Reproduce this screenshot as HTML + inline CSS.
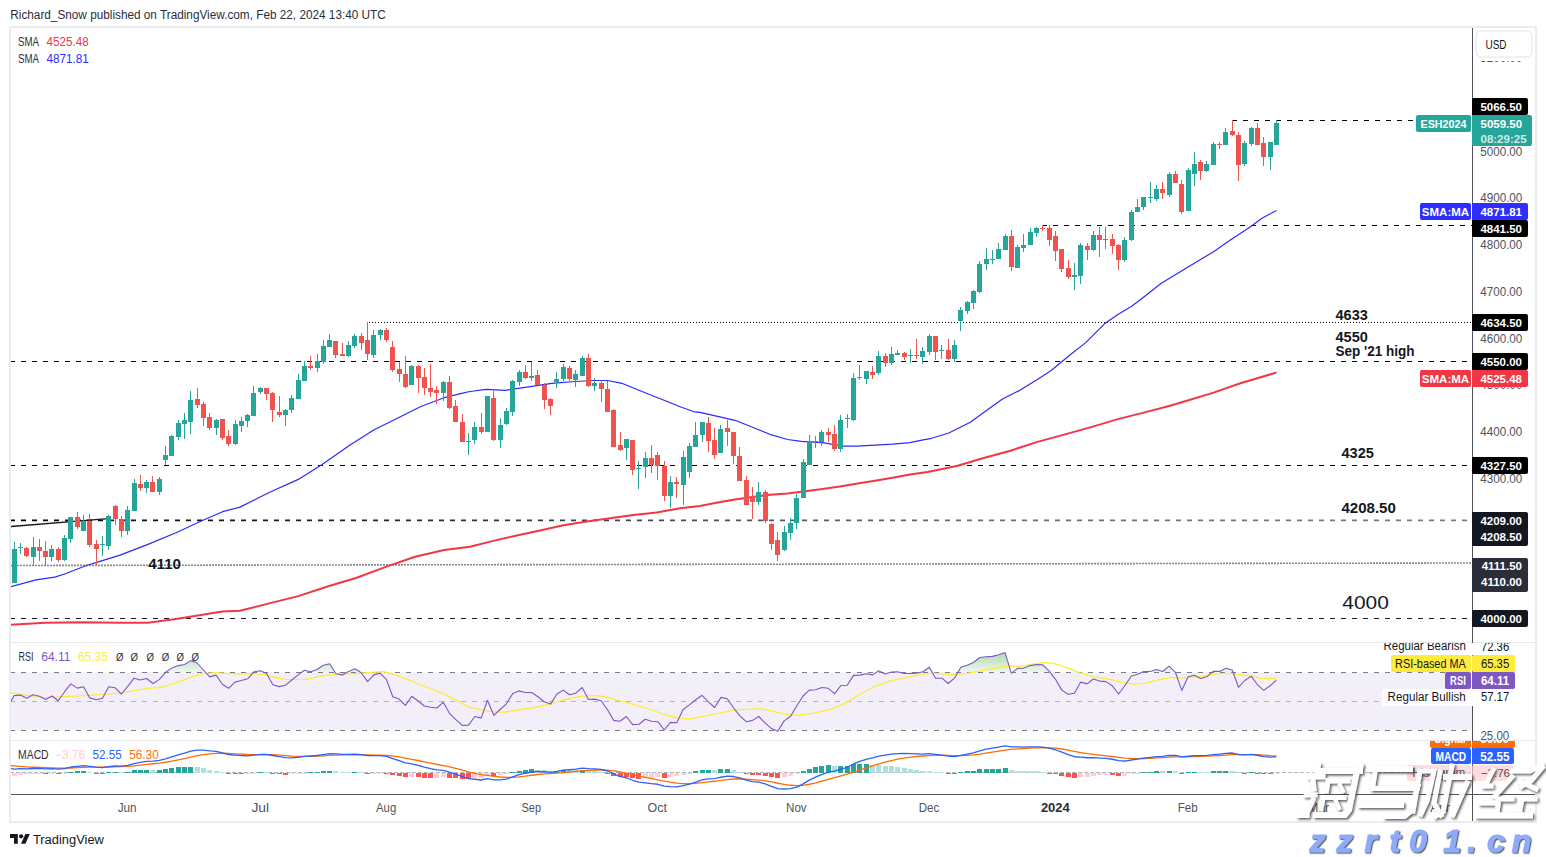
<!DOCTYPE html>
<html><head><meta charset="utf-8"><style>
html,body{margin:0;padding:0;background:#fff;width:1546px;height:857px;overflow:hidden}
</style></head><body>
<svg width="1546" height="857" viewBox="0 0 1546 857" style="position:absolute;left:0;top:0">
<defs>
<clipPath id="cmain"><rect x="11" y="28" width="1461" height="614"/></clipPath>
<clipPath id="crsi"><rect x="11" y="643" width="1461" height="97"/></clipPath>
<clipPath id="crsiob"><rect x="11" y="643" width="1461" height="29.5"/></clipPath>
<clipPath id="cmacd"><rect x="11" y="741" width="1461" height="53"/></clipPath>
<linearGradient id="gob" x1="0" y1="650" x2="0" y2="672.5" gradientUnits="userSpaceOnUse"><stop offset="0" stop-color="#a5d6a7"/><stop offset="1" stop-color="#eef7ee"/></linearGradient>
</defs>
<rect x="0" y="0" width="1546" height="857" fill="#ffffff"/>
<rect x="10" y="27" width="1526" height="795" fill="none" stroke="#ebecf1" stroke-width="2"/>
<rect x="11" y="642" width="1524" height="1" fill="#e6e8ee"/>
<rect x="11" y="740" width="1524" height="1" fill="#e6e8ee"/>
<rect x="1472" y="28" width="1" height="793" fill="#50535e"/>
<rect x="11" y="794" width="1524" height="1" fill="#50535e"/>
<g clip-path="url(#cmain)">
<line x1="1232" y1="120.5" x2="1472" y2="120.5" stroke="#000" stroke-width="1" stroke-dasharray="5 6"/>
<line x1="1042" y1="225.5" x2="1472" y2="225.5" stroke="#000" stroke-width="1" stroke-dasharray="5 6"/>
<line x1="369" y1="322.5" x2="1472" y2="322.5" stroke="#000" stroke-width="1" stroke-dasharray="1 2"/>
<line x1="10" y1="361.5" x2="1472" y2="361.5" stroke="#000" stroke-width="1" stroke-dasharray="5 6"/>
<line x1="10" y1="465.5" x2="1472" y2="465.5" stroke="#000" stroke-width="1" stroke-dasharray="5 6"/>
<defs><linearGradient id="g4209" x1="10" y1="0" x2="1472" y2="0" gradientUnits="userSpaceOnUse"><stop offset="0" stop-color="#000"/><stop offset="0.31" stop-color="#2a2e39"/><stop offset="0.49" stop-color="#50535e"/><stop offset="0.68" stop-color="#6a6d78"/><stop offset="1" stop-color="#787b86"/></linearGradient></defs>
<line x1="10" y1="520.3" x2="1472" y2="520.3" stroke="url(#g4209)" stroke-width="1.7" stroke-dasharray="5 6"/>
<line x1="11" y1="565.5" x2="1472" y2="563" stroke="#868993" stroke-width="1.6" stroke-dasharray="2 1"/>
<line x1="10" y1="618.5" x2="1472" y2="618.5" stroke="#131722" stroke-width="1" stroke-dasharray="5 6"/>
<line x1="10" y1="526.6" x2="108" y2="518.6" stroke="#131722" stroke-width="1.3"/>
<polyline points="10.00,624.70 45.30,622.80 82.70,622.30 120.00,622.80 148.00,622.80 176.00,619.10 194.60,615.90 222.60,611.60 240.00,610.70 269.20,603.40 298.30,596.10 327.50,586.50 356.70,577.70 385.80,566.90 415.00,556.70 444.10,550.00 470.00,546.70 493.30,540.90 516.70,535.50 540.00,530.40 563.40,525.20 586.70,521.50 610.10,518.20 633.40,515.00 656.80,512.40 680.10,508.20 700.00,506.00 717.50,502.50 735.00,499.40 752.50,496.90 770.00,494.70 787.50,493.40 805.00,491.20 822.50,488.90 840.00,486.40 857.50,483.60 875.00,480.80 892.60,477.70 910.00,474.50 927.60,471.90 956.80,466.00 983.70,458.00 1010.50,450.70 1037.40,441.90 1064.20,434.60 1091.10,427.10 1117.90,419.10 1144.80,412.40 1170.00,405.70 1186.80,400.70 1213.60,392.60 1240.40,383.20 1276.50,372.50" fill="none" stroke="#f23645" stroke-width="2" stroke-linejoin="round"/>
<polyline points="10.00,586.80 36.00,579.90 54.70,577.10 64.00,574.30 86.40,565.50 97.60,562.20 120.00,555.10 148.00,544.40 176.00,532.80 204.00,519.80 222.60,511.70 240.00,507.10 269.20,492.50 298.30,479.40 321.70,464.80 350.80,444.40 374.10,429.80 400.40,416.70 420.80,406.50 444.10,397.70 461.60,393.30 470.00,391.50 486.30,389.40 505.00,390.30 528.40,386.80 551.70,383.30 575.00,381.50 593.70,380.50 607.80,380.50 621.80,383.30 645.10,392.70 668.50,402.00 680.10,406.70 694.10,411.80 700.00,412.40 717.50,416.40 735.00,420.30 752.50,427.30 770.00,434.30 787.50,439.50 801.50,441.30 822.50,442.70 843.50,446.20 857.50,446.20 875.00,445.10 892.60,444.10 910.00,442.70 920.60,440.40 930.00,438.70 948.80,433.00 970.30,422.30 983.70,412.40 1002.50,399.00 1018.60,390.90 1037.40,379.40 1050.80,370.80 1069.60,355.20 1085.70,342.60 1104.50,323.80 1117.90,314.40 1131.30,306.40 1144.80,296.20 1160.90,283.50 1186.80,267.80 1213.60,251.70 1227.00,242.30 1251.20,226.20 1261.90,218.20 1276.50,210.50" fill="none" stroke="#2a2aff" stroke-width="1.2" stroke-linejoin="round"/>
<g shape-rendering="crispEdges">
<rect x="14" y="542" width="1" height="41" fill="#26a69a"/>
<rect x="12" y="549" width="5" height="34" fill="#26a69a"/>
<rect x="20" y="543" width="1" height="11" fill="#26a69a"/>
<rect x="18" y="547" width="5" height="1" fill="#26a69a"/>
<rect x="26" y="547" width="1" height="10" fill="#ef5350"/>
<rect x="24" y="548" width="5" height="8" fill="#ef5350"/>
<rect x="33" y="537" width="1" height="29" fill="#26a69a"/>
<rect x="31" y="547" width="5" height="10" fill="#26a69a"/>
<rect x="39" y="539" width="1" height="22" fill="#ef5350"/>
<rect x="37" y="547" width="5" height="4" fill="#ef5350"/>
<rect x="45" y="541" width="1" height="25" fill="#ef5350"/>
<rect x="43" y="551" width="5" height="6" fill="#ef5350"/>
<rect x="51" y="545" width="1" height="16" fill="#26a69a"/>
<rect x="49" y="549" width="5" height="8" fill="#26a69a"/>
<rect x="58" y="547" width="1" height="15" fill="#ef5350"/>
<rect x="56" y="549" width="5" height="11" fill="#ef5350"/>
<rect x="64" y="535" width="1" height="26" fill="#26a69a"/>
<rect x="62" y="538" width="5" height="22" fill="#26a69a"/>
<rect x="70" y="517" width="1" height="26" fill="#26a69a"/>
<rect x="68" y="517" width="5" height="22" fill="#26a69a"/>
<rect x="77" y="512" width="1" height="17" fill="#ef5350"/>
<rect x="75" y="517" width="5" height="10" fill="#ef5350"/>
<rect x="83" y="515" width="1" height="16" fill="#26a69a"/>
<rect x="81" y="521" width="5" height="10" fill="#26a69a"/>
<rect x="89" y="514" width="1" height="33" fill="#ef5350"/>
<rect x="87" y="521" width="5" height="24" fill="#ef5350"/>
<rect x="96" y="540" width="1" height="25" fill="#ef5350"/>
<rect x="94" y="544" width="5" height="5" fill="#ef5350"/>
<rect x="102" y="536" width="1" height="20" fill="#26a69a"/>
<rect x="100" y="544" width="5" height="1" fill="#26a69a"/>
<rect x="108" y="515" width="1" height="35" fill="#26a69a"/>
<rect x="106" y="516" width="5" height="30" fill="#26a69a"/>
<rect x="115" y="505" width="1" height="20" fill="#ef5350"/>
<rect x="113" y="506" width="5" height="13" fill="#ef5350"/>
<rect x="121" y="516" width="1" height="21" fill="#ef5350"/>
<rect x="119" y="519" width="5" height="12" fill="#ef5350"/>
<rect x="127" y="506" width="1" height="29" fill="#26a69a"/>
<rect x="125" y="510" width="5" height="21" fill="#26a69a"/>
<rect x="134" y="479" width="1" height="32" fill="#26a69a"/>
<rect x="132" y="483" width="5" height="28" fill="#26a69a"/>
<rect x="140" y="475" width="1" height="16" fill="#ef5350"/>
<rect x="138" y="484" width="5" height="4" fill="#ef5350"/>
<rect x="146" y="480" width="1" height="13" fill="#26a69a"/>
<rect x="144" y="482" width="5" height="6" fill="#26a69a"/>
<rect x="152" y="476" width="1" height="16" fill="#ef5350"/>
<rect x="150" y="482" width="5" height="10" fill="#ef5350"/>
<rect x="159" y="477" width="1" height="18" fill="#26a69a"/>
<rect x="157" y="479" width="5" height="13" fill="#26a69a"/>
<rect x="165" y="446" width="1" height="19" fill="#26a69a"/>
<rect x="163" y="455" width="5" height="5" fill="#26a69a"/>
<rect x="171" y="435" width="1" height="21" fill="#26a69a"/>
<rect x="169" y="436" width="5" height="20" fill="#26a69a"/>
<rect x="178" y="420" width="1" height="20" fill="#26a69a"/>
<rect x="176" y="423" width="5" height="14" fill="#26a69a"/>
<rect x="184" y="413" width="1" height="26" fill="#26a69a"/>
<rect x="182" y="420" width="5" height="4" fill="#26a69a"/>
<rect x="190" y="391" width="1" height="43" fill="#26a69a"/>
<rect x="188" y="400" width="5" height="22" fill="#26a69a"/>
<rect x="197" y="388" width="1" height="20" fill="#ef5350"/>
<rect x="195" y="399" width="5" height="6" fill="#ef5350"/>
<rect x="203" y="402" width="1" height="24" fill="#ef5350"/>
<rect x="201" y="404" width="5" height="14" fill="#ef5350"/>
<rect x="209" y="413" width="1" height="17" fill="#ef5350"/>
<rect x="207" y="417" width="5" height="11" fill="#ef5350"/>
<rect x="216" y="419" width="1" height="16" fill="#26a69a"/>
<rect x="214" y="420" width="5" height="8" fill="#26a69a"/>
<rect x="222" y="419" width="1" height="21" fill="#ef5350"/>
<rect x="220" y="419" width="5" height="19" fill="#ef5350"/>
<rect x="228" y="430" width="1" height="16" fill="#ef5350"/>
<rect x="226" y="436" width="5" height="8" fill="#ef5350"/>
<rect x="235" y="420" width="1" height="25" fill="#26a69a"/>
<rect x="233" y="424" width="5" height="20" fill="#26a69a"/>
<rect x="241" y="417" width="1" height="15" fill="#26a69a"/>
<rect x="239" y="421" width="5" height="5" fill="#26a69a"/>
<rect x="247" y="414" width="1" height="13" fill="#26a69a"/>
<rect x="245" y="415" width="5" height="6" fill="#26a69a"/>
<rect x="253" y="386" width="1" height="30" fill="#26a69a"/>
<rect x="251" y="393" width="5" height="23" fill="#26a69a"/>
<rect x="260" y="387" width="1" height="7" fill="#26a69a"/>
<rect x="258" y="388" width="5" height="4" fill="#26a69a"/>
<rect x="266" y="388" width="1" height="12" fill="#ef5350"/>
<rect x="264" y="388" width="5" height="6" fill="#ef5350"/>
<rect x="272" y="392" width="1" height="30" fill="#ef5350"/>
<rect x="270" y="393" width="5" height="17" fill="#ef5350"/>
<rect x="279" y="396" width="1" height="21" fill="#ef5350"/>
<rect x="277" y="412" width="5" height="3" fill="#ef5350"/>
<rect x="285" y="409" width="1" height="17" fill="#26a69a"/>
<rect x="283" y="410" width="5" height="5" fill="#26a69a"/>
<rect x="291" y="395" width="1" height="18" fill="#26a69a"/>
<rect x="289" y="398" width="5" height="12" fill="#26a69a"/>
<rect x="298" y="374" width="1" height="25" fill="#26a69a"/>
<rect x="296" y="380" width="5" height="19" fill="#26a69a"/>
<rect x="304" y="361" width="1" height="20" fill="#26a69a"/>
<rect x="302" y="366" width="5" height="15" fill="#26a69a"/>
<rect x="310" y="356" width="1" height="14" fill="#ef5350"/>
<rect x="308" y="366" width="5" height="2" fill="#ef5350"/>
<rect x="317" y="354" width="1" height="18" fill="#26a69a"/>
<rect x="315" y="361" width="5" height="7" fill="#26a69a"/>
<rect x="323" y="340" width="1" height="24" fill="#26a69a"/>
<rect x="321" y="346" width="5" height="16" fill="#26a69a"/>
<rect x="329" y="334" width="1" height="13" fill="#26a69a"/>
<rect x="327" y="340" width="5" height="7" fill="#26a69a"/>
<rect x="335" y="341" width="1" height="17" fill="#ef5350"/>
<rect x="333" y="341" width="5" height="14" fill="#ef5350"/>
<rect x="342" y="343" width="1" height="13" fill="#ef5350"/>
<rect x="340" y="354" width="5" height="2" fill="#ef5350"/>
<rect x="348" y="341" width="1" height="16" fill="#26a69a"/>
<rect x="346" y="345" width="5" height="11" fill="#26a69a"/>
<rect x="354" y="334" width="1" height="14" fill="#26a69a"/>
<rect x="352" y="336" width="5" height="10" fill="#26a69a"/>
<rect x="361" y="333" width="1" height="17" fill="#ef5350"/>
<rect x="359" y="336" width="5" height="7" fill="#ef5350"/>
<rect x="367" y="322" width="1" height="38" fill="#ef5350"/>
<rect x="365" y="340" width="5" height="14" fill="#ef5350"/>
<rect x="373" y="330" width="1" height="28" fill="#26a69a"/>
<rect x="371" y="335" width="5" height="20" fill="#26a69a"/>
<rect x="380" y="329" width="1" height="11" fill="#26a69a"/>
<rect x="378" y="330" width="5" height="5" fill="#26a69a"/>
<rect x="386" y="328" width="1" height="14" fill="#ef5350"/>
<rect x="384" y="330" width="5" height="10" fill="#ef5350"/>
<rect x="392" y="341" width="1" height="31" fill="#ef5350"/>
<rect x="390" y="347" width="5" height="23" fill="#ef5350"/>
<rect x="399" y="362" width="1" height="20" fill="#ef5350"/>
<rect x="397" y="369" width="5" height="5" fill="#ef5350"/>
<rect x="405" y="356" width="1" height="32" fill="#ef5350"/>
<rect x="403" y="374" width="5" height="13" fill="#ef5350"/>
<rect x="411" y="365" width="1" height="20" fill="#26a69a"/>
<rect x="409" y="366" width="5" height="19" fill="#26a69a"/>
<rect x="418" y="365" width="1" height="28" fill="#ef5350"/>
<rect x="416" y="366" width="5" height="12" fill="#ef5350"/>
<rect x="424" y="368" width="1" height="27" fill="#ef5350"/>
<rect x="422" y="377" width="5" height="11" fill="#ef5350"/>
<rect x="430" y="364" width="1" height="33" fill="#ef5350"/>
<rect x="428" y="388" width="5" height="4" fill="#ef5350"/>
<rect x="436" y="386" width="1" height="18" fill="#ef5350"/>
<rect x="434" y="390" width="5" height="3" fill="#ef5350"/>
<rect x="443" y="381" width="1" height="20" fill="#26a69a"/>
<rect x="441" y="382" width="5" height="11" fill="#26a69a"/>
<rect x="449" y="376" width="1" height="33" fill="#ef5350"/>
<rect x="447" y="382" width="5" height="26" fill="#ef5350"/>
<rect x="455" y="400" width="1" height="22" fill="#ef5350"/>
<rect x="453" y="406" width="5" height="16" fill="#ef5350"/>
<rect x="462" y="414" width="1" height="28" fill="#ef5350"/>
<rect x="460" y="422" width="5" height="20" fill="#ef5350"/>
<rect x="468" y="433" width="1" height="22" fill="#26a69a"/>
<rect x="466" y="441" width="5" height="1" fill="#26a69a"/>
<rect x="474" y="422" width="1" height="22" fill="#26a69a"/>
<rect x="472" y="427" width="5" height="13" fill="#26a69a"/>
<rect x="481" y="413" width="1" height="21" fill="#ef5350"/>
<rect x="479" y="427" width="5" height="5" fill="#ef5350"/>
<rect x="487" y="396" width="1" height="36" fill="#26a69a"/>
<rect x="485" y="396" width="5" height="36" fill="#26a69a"/>
<rect x="493" y="391" width="1" height="50" fill="#ef5350"/>
<rect x="491" y="398" width="5" height="42" fill="#ef5350"/>
<rect x="500" y="418" width="1" height="30" fill="#26a69a"/>
<rect x="498" y="425" width="5" height="15" fill="#26a69a"/>
<rect x="506" y="408" width="1" height="17" fill="#26a69a"/>
<rect x="504" y="411" width="5" height="13" fill="#26a69a"/>
<rect x="512" y="380" width="1" height="36" fill="#26a69a"/>
<rect x="510" y="381" width="5" height="31" fill="#26a69a"/>
<rect x="519" y="370" width="1" height="16" fill="#26a69a"/>
<rect x="517" y="372" width="5" height="10" fill="#26a69a"/>
<rect x="525" y="365" width="1" height="14" fill="#ef5350"/>
<rect x="523" y="372" width="5" height="6" fill="#ef5350"/>
<rect x="531" y="362" width="1" height="19" fill="#26a69a"/>
<rect x="529" y="376" width="5" height="2" fill="#26a69a"/>
<rect x="537" y="370" width="1" height="15" fill="#ef5350"/>
<rect x="535" y="375" width="5" height="10" fill="#ef5350"/>
<rect x="544" y="383" width="1" height="26" fill="#ef5350"/>
<rect x="542" y="385" width="5" height="15" fill="#ef5350"/>
<rect x="550" y="398" width="1" height="17" fill="#ef5350"/>
<rect x="548" y="399" width="5" height="7" fill="#ef5350"/>
<rect x="556" y="372" width="1" height="16" fill="#26a69a"/>
<rect x="554" y="379" width="5" height="3" fill="#26a69a"/>
<rect x="563" y="364" width="1" height="17" fill="#26a69a"/>
<rect x="561" y="367" width="5" height="12" fill="#26a69a"/>
<rect x="569" y="366" width="1" height="15" fill="#ef5350"/>
<rect x="567" y="368" width="5" height="11" fill="#ef5350"/>
<rect x="575" y="370" width="1" height="17" fill="#26a69a"/>
<rect x="573" y="374" width="5" height="6" fill="#26a69a"/>
<rect x="582" y="356" width="1" height="20" fill="#26a69a"/>
<rect x="580" y="358" width="5" height="18" fill="#26a69a"/>
<rect x="588" y="354" width="1" height="33" fill="#ef5350"/>
<rect x="586" y="358" width="5" height="28" fill="#ef5350"/>
<rect x="594" y="378" width="1" height="13" fill="#26a69a"/>
<rect x="592" y="383" width="5" height="3" fill="#26a69a"/>
<rect x="601" y="380" width="1" height="22" fill="#ef5350"/>
<rect x="599" y="383" width="5" height="6" fill="#ef5350"/>
<rect x="607" y="381" width="1" height="31" fill="#ef5350"/>
<rect x="605" y="389" width="5" height="23" fill="#ef5350"/>
<rect x="613" y="409" width="1" height="38" fill="#ef5350"/>
<rect x="611" y="410" width="5" height="37" fill="#ef5350"/>
<rect x="620" y="432" width="1" height="19" fill="#ef5350"/>
<rect x="618" y="445" width="5" height="5" fill="#ef5350"/>
<rect x="626" y="439" width="1" height="21" fill="#26a69a"/>
<rect x="624" y="439" width="5" height="9" fill="#26a69a"/>
<rect x="632" y="440" width="1" height="35" fill="#ef5350"/>
<rect x="630" y="440" width="5" height="30" fill="#ef5350"/>
<rect x="638" y="461" width="1" height="28" fill="#26a69a"/>
<rect x="636" y="468" width="5" height="1" fill="#26a69a"/>
<rect x="645" y="452" width="1" height="26" fill="#26a69a"/>
<rect x="643" y="458" width="5" height="9" fill="#26a69a"/>
<rect x="651" y="445" width="1" height="28" fill="#ef5350"/>
<rect x="649" y="458" width="5" height="7" fill="#ef5350"/>
<rect x="657" y="452" width="1" height="28" fill="#ef5350"/>
<rect x="655" y="455" width="5" height="11" fill="#ef5350"/>
<rect x="664" y="461" width="1" height="40" fill="#ef5350"/>
<rect x="662" y="466" width="5" height="30" fill="#ef5350"/>
<rect x="670" y="476" width="1" height="32" fill="#26a69a"/>
<rect x="668" y="482" width="5" height="14" fill="#26a69a"/>
<rect x="676" y="477" width="1" height="21" fill="#ef5350"/>
<rect x="674" y="482" width="5" height="2" fill="#ef5350"/>
<rect x="683" y="451" width="1" height="54" fill="#26a69a"/>
<rect x="681" y="457" width="5" height="28" fill="#26a69a"/>
<rect x="689" y="443" width="1" height="35" fill="#26a69a"/>
<rect x="687" y="446" width="5" height="26" fill="#26a69a"/>
<rect x="695" y="422" width="1" height="25" fill="#26a69a"/>
<rect x="693" y="435" width="5" height="12" fill="#26a69a"/>
<rect x="702" y="422" width="1" height="20" fill="#26a69a"/>
<rect x="700" y="422" width="5" height="13" fill="#26a69a"/>
<rect x="708" y="417" width="1" height="35" fill="#ef5350"/>
<rect x="706" y="423" width="5" height="18" fill="#ef5350"/>
<rect x="714" y="428" width="1" height="31" fill="#ef5350"/>
<rect x="712" y="440" width="5" height="15" fill="#ef5350"/>
<rect x="720" y="425" width="1" height="28" fill="#26a69a"/>
<rect x="718" y="429" width="5" height="24" fill="#26a69a"/>
<rect x="727" y="420" width="1" height="26" fill="#ef5350"/>
<rect x="725" y="428" width="5" height="4" fill="#ef5350"/>
<rect x="733" y="432" width="1" height="32" fill="#ef5350"/>
<rect x="731" y="432" width="5" height="24" fill="#ef5350"/>
<rect x="739" y="447" width="1" height="34" fill="#ef5350"/>
<rect x="737" y="456" width="5" height="25" fill="#ef5350"/>
<rect x="746" y="476" width="1" height="29" fill="#ef5350"/>
<rect x="744" y="480" width="5" height="25" fill="#ef5350"/>
<rect x="752" y="487" width="1" height="32" fill="#ef5350"/>
<rect x="750" y="498" width="5" height="4" fill="#ef5350"/>
<rect x="758" y="482" width="1" height="23" fill="#26a69a"/>
<rect x="756" y="492" width="5" height="10" fill="#26a69a"/>
<rect x="765" y="490" width="1" height="33" fill="#ef5350"/>
<rect x="763" y="492" width="5" height="29" fill="#ef5350"/>
<rect x="771" y="523" width="1" height="27" fill="#ef5350"/>
<rect x="769" y="524" width="5" height="20" fill="#ef5350"/>
<rect x="777" y="532" width="1" height="29" fill="#ef5350"/>
<rect x="775" y="540" width="5" height="15" fill="#ef5350"/>
<rect x="784" y="526" width="1" height="25" fill="#26a69a"/>
<rect x="782" y="532" width="5" height="18" fill="#26a69a"/>
<rect x="790" y="518" width="1" height="22" fill="#26a69a"/>
<rect x="788" y="523" width="5" height="10" fill="#26a69a"/>
<rect x="796" y="494" width="1" height="35" fill="#26a69a"/>
<rect x="794" y="498" width="5" height="25" fill="#26a69a"/>
<rect x="803" y="459" width="1" height="39" fill="#26a69a"/>
<rect x="801" y="462" width="5" height="36" fill="#26a69a"/>
<rect x="809" y="435" width="1" height="30" fill="#26a69a"/>
<rect x="807" y="441" width="5" height="24" fill="#26a69a"/>
<rect x="815" y="436" width="1" height="12" fill="#26a69a"/>
<rect x="813" y="441" width="5" height="1" fill="#26a69a"/>
<rect x="821" y="430" width="1" height="16" fill="#26a69a"/>
<rect x="819" y="432" width="5" height="10" fill="#26a69a"/>
<rect x="828" y="428" width="1" height="14" fill="#ef5350"/>
<rect x="826" y="432" width="5" height="3" fill="#ef5350"/>
<rect x="834" y="425" width="1" height="26" fill="#ef5350"/>
<rect x="832" y="434" width="5" height="15" fill="#ef5350"/>
<rect x="840" y="415" width="1" height="37" fill="#26a69a"/>
<rect x="838" y="420" width="5" height="29" fill="#26a69a"/>
<rect x="847" y="414" width="1" height="14" fill="#26a69a"/>
<rect x="845" y="418" width="5" height="1" fill="#26a69a"/>
<rect x="853" y="373" width="1" height="48" fill="#26a69a"/>
<rect x="851" y="378" width="5" height="42" fill="#26a69a"/>
<rect x="859" y="365" width="1" height="15" fill="#ef5350"/>
<rect x="857" y="377" width="5" height="1" fill="#ef5350"/>
<rect x="866" y="371" width="1" height="13" fill="#26a69a"/>
<rect x="864" y="371" width="5" height="8" fill="#26a69a"/>
<rect x="872" y="366" width="1" height="13" fill="#ef5350"/>
<rect x="870" y="372" width="5" height="3" fill="#ef5350"/>
<rect x="878" y="351" width="1" height="24" fill="#26a69a"/>
<rect x="876" y="356" width="5" height="17" fill="#26a69a"/>
<rect x="885" y="353" width="1" height="14" fill="#ef5350"/>
<rect x="883" y="356" width="5" height="7" fill="#ef5350"/>
<rect x="891" y="347" width="1" height="18" fill="#26a69a"/>
<rect x="889" y="354" width="5" height="9" fill="#26a69a"/>
<rect x="897" y="350" width="1" height="5" fill="#26a69a"/>
<rect x="895" y="353" width="5" height="2" fill="#26a69a"/>
<rect x="904" y="352" width="1" height="8" fill="#ef5350"/>
<rect x="902" y="353" width="5" height="4" fill="#ef5350"/>
<rect x="910" y="349" width="1" height="14" fill="#26a69a"/>
<rect x="908" y="355" width="5" height="1" fill="#26a69a"/>
<rect x="916" y="339" width="1" height="20" fill="#ef5350"/>
<rect x="914" y="355" width="5" height="1" fill="#ef5350"/>
<rect x="922" y="347" width="1" height="17" fill="#26a69a"/>
<rect x="920" y="351" width="5" height="6" fill="#26a69a"/>
<rect x="929" y="334" width="1" height="21" fill="#26a69a"/>
<rect x="927" y="336" width="5" height="16" fill="#26a69a"/>
<rect x="935" y="336" width="1" height="24" fill="#ef5350"/>
<rect x="933" y="336" width="5" height="16" fill="#ef5350"/>
<rect x="941" y="345" width="1" height="14" fill="#26a69a"/>
<rect x="939" y="350" width="5" height="1" fill="#26a69a"/>
<rect x="948" y="339" width="1" height="21" fill="#ef5350"/>
<rect x="946" y="350" width="5" height="9" fill="#ef5350"/>
<rect x="954" y="340" width="1" height="22" fill="#26a69a"/>
<rect x="952" y="345" width="5" height="14" fill="#26a69a"/>
<rect x="960" y="307" width="1" height="24" fill="#26a69a"/>
<rect x="958" y="310" width="5" height="11" fill="#26a69a"/>
<rect x="967" y="301" width="1" height="13" fill="#26a69a"/>
<rect x="965" y="302" width="5" height="9" fill="#26a69a"/>
<rect x="973" y="290" width="1" height="19" fill="#26a69a"/>
<rect x="971" y="291" width="5" height="12" fill="#26a69a"/>
<rect x="979" y="261" width="1" height="32" fill="#26a69a"/>
<rect x="977" y="264" width="5" height="28" fill="#26a69a"/>
<rect x="986" y="248" width="1" height="22" fill="#26a69a"/>
<rect x="984" y="259" width="5" height="5" fill="#26a69a"/>
<rect x="992" y="250" width="1" height="14" fill="#26a69a"/>
<rect x="990" y="259" width="5" height="1" fill="#26a69a"/>
<rect x="998" y="243" width="1" height="16" fill="#26a69a"/>
<rect x="996" y="249" width="5" height="10" fill="#26a69a"/>
<rect x="1005" y="234" width="1" height="16" fill="#26a69a"/>
<rect x="1003" y="236" width="5" height="14" fill="#26a69a"/>
<rect x="1011" y="230" width="1" height="41" fill="#ef5350"/>
<rect x="1009" y="236" width="5" height="31" fill="#ef5350"/>
<rect x="1017" y="245" width="1" height="23" fill="#26a69a"/>
<rect x="1015" y="247" width="5" height="21" fill="#26a69a"/>
<rect x="1023" y="234" width="1" height="18" fill="#26a69a"/>
<rect x="1021" y="245" width="5" height="3" fill="#26a69a"/>
<rect x="1030" y="228" width="1" height="17" fill="#26a69a"/>
<rect x="1028" y="232" width="5" height="13" fill="#26a69a"/>
<rect x="1036" y="227" width="1" height="10" fill="#26a69a"/>
<rect x="1034" y="228" width="5" height="5" fill="#26a69a"/>
<rect x="1042" y="225" width="1" height="6" fill="#ef5350"/>
<rect x="1040" y="228" width="5" height="1" fill="#ef5350"/>
<rect x="1049" y="225" width="1" height="21" fill="#ef5350"/>
<rect x="1047" y="228" width="5" height="12" fill="#ef5350"/>
<rect x="1055" y="231" width="1" height="30" fill="#ef5350"/>
<rect x="1053" y="236" width="5" height="15" fill="#ef5350"/>
<rect x="1061" y="249" width="1" height="23" fill="#ef5350"/>
<rect x="1059" y="249" width="5" height="20" fill="#ef5350"/>
<rect x="1068" y="260" width="1" height="19" fill="#ef5350"/>
<rect x="1066" y="268" width="5" height="9" fill="#ef5350"/>
<rect x="1074" y="263" width="1" height="27" fill="#26a69a"/>
<rect x="1072" y="275" width="5" height="2" fill="#26a69a"/>
<rect x="1080" y="243" width="1" height="41" fill="#26a69a"/>
<rect x="1078" y="245" width="5" height="31" fill="#26a69a"/>
<rect x="1087" y="243" width="1" height="17" fill="#ef5350"/>
<rect x="1085" y="246" width="5" height="4" fill="#ef5350"/>
<rect x="1093" y="231" width="1" height="20" fill="#26a69a"/>
<rect x="1091" y="235" width="5" height="15" fill="#26a69a"/>
<rect x="1099" y="227" width="1" height="30" fill="#ef5350"/>
<rect x="1097" y="235" width="5" height="5" fill="#ef5350"/>
<rect x="1105" y="227" width="1" height="22" fill="#26a69a"/>
<rect x="1103" y="239" width="5" height="1" fill="#26a69a"/>
<rect x="1112" y="234" width="1" height="20" fill="#ef5350"/>
<rect x="1110" y="239" width="5" height="7" fill="#ef5350"/>
<rect x="1118" y="244" width="1" height="26" fill="#ef5350"/>
<rect x="1116" y="245" width="5" height="15" fill="#ef5350"/>
<rect x="1124" y="237" width="1" height="25" fill="#26a69a"/>
<rect x="1122" y="240" width="5" height="20" fill="#26a69a"/>
<rect x="1131" y="210" width="1" height="31" fill="#26a69a"/>
<rect x="1129" y="212" width="5" height="28" fill="#26a69a"/>
<rect x="1137" y="199" width="1" height="13" fill="#26a69a"/>
<rect x="1135" y="207" width="5" height="5" fill="#26a69a"/>
<rect x="1143" y="197" width="1" height="13" fill="#26a69a"/>
<rect x="1141" y="197" width="5" height="10" fill="#26a69a"/>
<rect x="1150" y="182" width="1" height="21" fill="#26a69a"/>
<rect x="1148" y="197" width="5" height="1" fill="#26a69a"/>
<rect x="1156" y="185" width="1" height="16" fill="#26a69a"/>
<rect x="1154" y="189" width="5" height="10" fill="#26a69a"/>
<rect x="1162" y="182" width="1" height="17" fill="#ef5350"/>
<rect x="1160" y="189" width="5" height="4" fill="#ef5350"/>
<rect x="1169" y="172" width="1" height="25" fill="#26a69a"/>
<rect x="1167" y="174" width="5" height="21" fill="#26a69a"/>
<rect x="1175" y="171" width="1" height="12" fill="#ef5350"/>
<rect x="1173" y="174" width="5" height="9" fill="#ef5350"/>
<rect x="1181" y="180" width="1" height="34" fill="#ef5350"/>
<rect x="1179" y="184" width="5" height="28" fill="#ef5350"/>
<rect x="1188" y="168" width="1" height="43" fill="#26a69a"/>
<rect x="1186" y="170" width="5" height="41" fill="#26a69a"/>
<rect x="1194" y="152" width="1" height="34" fill="#26a69a"/>
<rect x="1192" y="164" width="5" height="10" fill="#26a69a"/>
<rect x="1200" y="160" width="1" height="20" fill="#ef5350"/>
<rect x="1198" y="162" width="5" height="9" fill="#ef5350"/>
<rect x="1206" y="161" width="1" height="11" fill="#26a69a"/>
<rect x="1204" y="164" width="5" height="7" fill="#26a69a"/>
<rect x="1213" y="142" width="1" height="23" fill="#26a69a"/>
<rect x="1211" y="144" width="5" height="21" fill="#26a69a"/>
<rect x="1219" y="142" width="1" height="7" fill="#ef5350"/>
<rect x="1217" y="144" width="5" height="1" fill="#ef5350"/>
<rect x="1225" y="128" width="1" height="17" fill="#26a69a"/>
<rect x="1223" y="132" width="5" height="13" fill="#26a69a"/>
<rect x="1232" y="120" width="1" height="16" fill="#ef5350"/>
<rect x="1230" y="131" width="5" height="4" fill="#ef5350"/>
<rect x="1238" y="132" width="1" height="49" fill="#ef5350"/>
<rect x="1236" y="135" width="5" height="30" fill="#ef5350"/>
<rect x="1244" y="141" width="1" height="25" fill="#26a69a"/>
<rect x="1242" y="143" width="5" height="21" fill="#26a69a"/>
<rect x="1251" y="127" width="1" height="19" fill="#26a69a"/>
<rect x="1249" y="128" width="5" height="16" fill="#26a69a"/>
<rect x="1257" y="123" width="1" height="22" fill="#ef5350"/>
<rect x="1255" y="128" width="5" height="17" fill="#ef5350"/>
<rect x="1263" y="137" width="1" height="29" fill="#ef5350"/>
<rect x="1261" y="143" width="5" height="14" fill="#ef5350"/>
<rect x="1270" y="142" width="1" height="28" fill="#26a69a"/>
<rect x="1268" y="142" width="5" height="15" fill="#26a69a"/>
<rect x="1276" y="120" width="1" height="25" fill="#26a69a"/>
<rect x="1274" y="123" width="5" height="22" fill="#26a69a"/>
</g>
</g>
<g clip-path="url(#crsi)">
<rect x="11" y="672.5" width="1461" height="58" fill="#f2eff9"/>
<polygon points="10.00,703.30 14.10,695.60 20.41,695.10 26.72,698.20 33.03,694.80 39.35,696.30 45.66,699.50 51.97,696.00 58.28,700.70 64.59,691.70 70.90,683.90 77.21,688.10 83.53,686.70 89.84,697.90 96.15,699.80 102.46,698.20 108.77,686.70 115.08,687.80 121.40,694.00 127.71,686.30 134.02,678.20 140.33,680.00 146.64,678.50 152.95,683.50 159.26,679.60 165.58,672.30 171.89,668.10 178.20,665.60 184.51,664.50 190.82,660.60 197.13,663.00 203.44,670.00 209.76,676.90 216.07,675.10 222.38,684.20 228.69,688.30 235.00,682.10 241.31,680.50 247.63,678.80 253.94,671.80 260.25,670.70 266.56,673.50 272.87,684.70 279.18,686.60 285.49,685.20 291.81,680.00 298.12,674.90 304.43,670.30 310.74,671.80 317.05,669.50 323.36,665.30 329.68,663.70 335.99,673.80 342.30,674.90 348.61,671.50 354.92,668.70 361.23,672.70 367.54,681.60 373.86,674.90 380.17,673.10 386.48,679.60 392.79,696.70 399.10,699.10 405.41,705.40 411.72,696.30 418.04,701.00 424.35,706.00 430.66,707.20 436.97,708.00 443.28,702.20 449.59,713.40 455.90,719.60 462.22,725.40 468.53,725.10 474.84,716.50 481.15,718.10 487.46,700.20 493.77,715.30 500.09,709.50 506.40,703.80 512.71,693.60 519.02,690.90 525.33,692.50 531.64,692.50 537.95,696.70 544.27,701.80 550.58,704.10 556.89,694.00 563.20,690.10 569.51,694.80 575.82,693.20 582.13,687.50 588.45,699.50 594.76,699.10 601.07,700.70 607.38,709.50 613.69,720.40 620.00,721.20 626.32,716.50 632.63,724.60 638.94,724.30 645.25,719.30 651.56,721.20 657.87,721.70 664.18,730.00 670.50,722.40 676.81,722.70 683.12,709.50 689.43,704.90 695.74,699.80 702.05,695.30 708.37,701.80 714.68,707.50 720.99,697.40 727.30,698.80 733.61,708.00 739.92,715.80 746.23,721.70 752.55,720.40 758.86,716.50 765.17,723.20 771.48,728.60 777.79,731.30 784.10,720.90 790.41,716.50 796.73,706.00 803.04,696.00 809.35,690.10 815.66,689.80 821.97,687.50 828.28,688.30 834.60,693.60 840.91,685.50 847.22,685.20 853.53,675.40 859.84,675.10 866.15,673.80 872.46,674.90 878.78,670.70 885.09,674.10 891.40,672.00 897.71,671.80 904.02,673.50 910.33,673.40 916.64,673.10 922.96,671.80 929.27,667.30 935.58,678.20 941.89,678.20 948.20,683.50 954.51,678.20 960.82,667.30 967.14,665.30 973.45,662.50 979.76,657.50 986.07,656.80 992.38,656.40 998.69,654.70 1005.01,652.60 1011.32,673.10 1017.63,668.40 1023.94,668.10 1030.25,665.60 1036.56,664.50 1042.87,664.80 1049.19,671.20 1055.50,679.30 1061.81,690.10 1068.12,694.30 1074.43,693.20 1080.74,682.10 1087.05,683.90 1093.37,679.00 1099.68,681.10 1105.99,681.60 1112.30,685.80 1118.61,694.00 1124.92,685.50 1131.24,676.20 1137.55,674.30 1143.86,671.50 1150.17,671.50 1156.48,669.40 1162.79,671.50 1169.10,666.20 1175.42,672.30 1181.73,690.40 1188.04,676.70 1194.35,675.30 1200.66,678.50 1206.97,676.70 1213.28,671.40 1219.60,671.40 1225.91,668.30 1232.22,670.00 1238.53,687.30 1244.84,680.50 1251.15,676.10 1257.47,684.80 1263.78,690.40 1270.09,685.80 1276.40,680.20 1276.40,672.50 10.00,672.50" fill="url(#gob)" clip-path="url(#crsiob)"/>
<line x1="10" y1="672.5" x2="1472" y2="672.5" stroke="#787b86" stroke-width="1" stroke-dasharray="5 6"/>
<line x1="10" y1="701.5" x2="1472" y2="701.5" stroke="#b2b5be" stroke-width="1" stroke-dasharray="5 6"/>
<line x1="10" y1="730.5" x2="1472" y2="730.5" stroke="#787b86" stroke-width="1" stroke-dasharray="5 6"/>
<polyline points="10.30,692.50 23.50,694.80 45.30,697.60 70.10,696.30 94.90,694.80 119.80,693.20 147.70,688.30 163.20,687.00 175.70,683.10 189.60,677.70 202.00,673.80 214.50,672.70 233.10,673.80 252.40,673.50 264.80,674.60 277.30,678.00 286.60,679.70 305.20,679.30 325.40,675.40 340.90,674.10 356.40,673.50 372.00,672.30 382.80,671.50 395.20,674.60 410.80,680.80 426.30,687.00 441.80,693.20 457.30,700.70 468.20,706.90 487.50,711.10 503.00,712.30 518.60,710.00 534.10,707.50 549.60,704.10 565.10,699.50 580.70,696.30 593.10,695.30 604.00,696.30 619.50,700.70 635.00,704.90 650.50,709.50 666.00,715.00 678.50,718.40 689.30,719.20 700.20,716.80 719.50,713.10 735.00,709.90 750.60,709.10 763.00,708.80 773.90,711.60 784.70,714.20 795.60,715.30 812.70,713.40 828.20,709.90 843.70,704.10 859.20,694.80 874.80,686.30 890.30,680.80 905.80,677.70 921.30,674.30 932.20,673.10 951.50,674.60 967.00,673.40 982.60,670.70 1004.30,666.50 1021.40,666.10 1036.90,663.40 1044.70,662.50 1054.00,663.30 1068.00,668.10 1078.80,672.70 1094.30,676.90 1109.90,679.30 1122.30,682.70 1134.70,684.20 1145.60,683.10 1161.70,679.10 1173.30,677.40 1181.50,678.20 1190.80,677.00 1202.50,676.20 1214.20,674.10 1225.80,673.30 1231.70,673.30 1241.00,675.00 1250.30,676.10 1262.00,678.50 1276.50,678.50" fill="none" stroke="#ffeb3b" stroke-width="1.3" stroke-linejoin="round"/>
<polyline points="10.00,703.30 14.10,695.60 20.41,695.10 26.72,698.20 33.03,694.80 39.35,696.30 45.66,699.50 51.97,696.00 58.28,700.70 64.59,691.70 70.90,683.90 77.21,688.10 83.53,686.70 89.84,697.90 96.15,699.80 102.46,698.20 108.77,686.70 115.08,687.80 121.40,694.00 127.71,686.30 134.02,678.20 140.33,680.00 146.64,678.50 152.95,683.50 159.26,679.60 165.58,672.30 171.89,668.10 178.20,665.60 184.51,664.50 190.82,660.60 197.13,663.00 203.44,670.00 209.76,676.90 216.07,675.10 222.38,684.20 228.69,688.30 235.00,682.10 241.31,680.50 247.63,678.80 253.94,671.80 260.25,670.70 266.56,673.50 272.87,684.70 279.18,686.60 285.49,685.20 291.81,680.00 298.12,674.90 304.43,670.30 310.74,671.80 317.05,669.50 323.36,665.30 329.68,663.70 335.99,673.80 342.30,674.90 348.61,671.50 354.92,668.70 361.23,672.70 367.54,681.60 373.86,674.90 380.17,673.10 386.48,679.60 392.79,696.70 399.10,699.10 405.41,705.40 411.72,696.30 418.04,701.00 424.35,706.00 430.66,707.20 436.97,708.00 443.28,702.20 449.59,713.40 455.90,719.60 462.22,725.40 468.53,725.10 474.84,716.50 481.15,718.10 487.46,700.20 493.77,715.30 500.09,709.50 506.40,703.80 512.71,693.60 519.02,690.90 525.33,692.50 531.64,692.50 537.95,696.70 544.27,701.80 550.58,704.10 556.89,694.00 563.20,690.10 569.51,694.80 575.82,693.20 582.13,687.50 588.45,699.50 594.76,699.10 601.07,700.70 607.38,709.50 613.69,720.40 620.00,721.20 626.32,716.50 632.63,724.60 638.94,724.30 645.25,719.30 651.56,721.20 657.87,721.70 664.18,730.00 670.50,722.40 676.81,722.70 683.12,709.50 689.43,704.90 695.74,699.80 702.05,695.30 708.37,701.80 714.68,707.50 720.99,697.40 727.30,698.80 733.61,708.00 739.92,715.80 746.23,721.70 752.55,720.40 758.86,716.50 765.17,723.20 771.48,728.60 777.79,731.30 784.10,720.90 790.41,716.50 796.73,706.00 803.04,696.00 809.35,690.10 815.66,689.80 821.97,687.50 828.28,688.30 834.60,693.60 840.91,685.50 847.22,685.20 853.53,675.40 859.84,675.10 866.15,673.80 872.46,674.90 878.78,670.70 885.09,674.10 891.40,672.00 897.71,671.80 904.02,673.50 910.33,673.40 916.64,673.10 922.96,671.80 929.27,667.30 935.58,678.20 941.89,678.20 948.20,683.50 954.51,678.20 960.82,667.30 967.14,665.30 973.45,662.50 979.76,657.50 986.07,656.80 992.38,656.40 998.69,654.70 1005.01,652.60 1011.32,673.10 1017.63,668.40 1023.94,668.10 1030.25,665.60 1036.56,664.50 1042.87,664.80 1049.19,671.20 1055.50,679.30 1061.81,690.10 1068.12,694.30 1074.43,693.20 1080.74,682.10 1087.05,683.90 1093.37,679.00 1099.68,681.10 1105.99,681.60 1112.30,685.80 1118.61,694.00 1124.92,685.50 1131.24,676.20 1137.55,674.30 1143.86,671.50 1150.17,671.50 1156.48,669.40 1162.79,671.50 1169.10,666.20 1175.42,672.30 1181.73,690.40 1188.04,676.70 1194.35,675.30 1200.66,678.50 1206.97,676.70 1213.28,671.40 1219.60,671.40 1225.91,668.30 1232.22,670.00 1238.53,687.30 1244.84,680.50 1251.15,676.10 1257.47,684.80 1263.78,690.40 1270.09,685.80 1276.40,680.20" fill="none" stroke="#7e57c2" stroke-width="1.1" stroke-linejoin="round"/>
</g>
<g clip-path="url(#cmacd)">
<line x1="10" y1="772.5" x2="1472" y2="772.5" stroke="#b2b5be" stroke-width="1" stroke-dasharray="4 2"/>
<g shape-rendering="crispEdges">
<rect x="12" y="773" width="5" height="3" fill="#ffcdd2"/>
<rect x="18" y="773" width="5" height="2" fill="#ffcdd2"/>
<rect x="24" y="773" width="5" height="1" fill="#ffcdd2"/>
<rect x="31" y="773" width="5" height="1" fill="#ffcdd2"/>
<rect x="37" y="773" width="5" height="1" fill="#ffcdd2"/>
<rect x="43" y="773" width="5" height="1" fill="#ff5252"/>
<rect x="49" y="773" width="5" height="1" fill="#ffcdd2"/>
<rect x="56" y="773" width="5" height="1" fill="#ff5252"/>
<rect x="62" y="773" width="5" height="1" fill="#ffcdd2"/>
<rect x="68" y="772" width="5" height="1" fill="#26a69a"/>
<rect x="75" y="771" width="5" height="2" fill="#26a69a"/>
<rect x="81" y="771" width="5" height="2" fill="#26a69a"/>
<rect x="87" y="772" width="5" height="1" fill="#b2dfdb"/>
<rect x="94" y="773" width="5" height="1" fill="#ff5252"/>
<rect x="100" y="773" width="5" height="1" fill="#ff5252"/>
<rect x="106" y="772" width="5" height="1" fill="#26a69a"/>
<rect x="113" y="772" width="5" height="1" fill="#26a69a"/>
<rect x="119" y="772" width="5" height="1" fill="#b2dfdb"/>
<rect x="125" y="772" width="5" height="1" fill="#26a69a"/>
<rect x="132" y="770" width="5" height="3" fill="#26a69a"/>
<rect x="138" y="770" width="5" height="3" fill="#26a69a"/>
<rect x="144" y="770" width="5" height="3" fill="#26a69a"/>
<rect x="150" y="770" width="5" height="3" fill="#b2dfdb"/>
<rect x="157" y="770" width="5" height="3" fill="#26a69a"/>
<rect x="163" y="769" width="5" height="4" fill="#26a69a"/>
<rect x="169" y="768" width="5" height="5" fill="#26a69a"/>
<rect x="176" y="767" width="5" height="6" fill="#26a69a"/>
<rect x="182" y="767" width="5" height="6" fill="#26a69a"/>
<rect x="188" y="767" width="5" height="6" fill="#26a69a"/>
<rect x="195" y="767" width="5" height="6" fill="#b2dfdb"/>
<rect x="201" y="768" width="5" height="5" fill="#b2dfdb"/>
<rect x="207" y="770" width="5" height="3" fill="#b2dfdb"/>
<rect x="214" y="771" width="5" height="2" fill="#b2dfdb"/>
<rect x="220" y="772" width="5" height="1" fill="#b2dfdb"/>
<rect x="226" y="773" width="5" height="1" fill="#ff5252"/>
<rect x="233" y="773" width="5" height="1" fill="#ff5252"/>
<rect x="239" y="773" width="5" height="1" fill="#ff5252"/>
<rect x="245" y="773" width="5" height="1" fill="#ffcdd2"/>
<rect x="251" y="773" width="5" height="1" fill="#ffcdd2"/>
<rect x="258" y="772" width="5" height="1" fill="#26a69a"/>
<rect x="264" y="772" width="5" height="1" fill="#b2dfdb"/>
<rect x="270" y="773" width="5" height="1" fill="#ff5252"/>
<rect x="277" y="773" width="5" height="1" fill="#ff5252"/>
<rect x="283" y="773" width="5" height="2" fill="#ff5252"/>
<rect x="289" y="773" width="5" height="1" fill="#ffcdd2"/>
<rect x="296" y="773" width="5" height="1" fill="#ffcdd2"/>
<rect x="302" y="773" width="5" height="1" fill="#ffcdd2"/>
<rect x="308" y="772" width="5" height="1" fill="#26a69a"/>
<rect x="315" y="772" width="5" height="1" fill="#26a69a"/>
<rect x="321" y="771" width="5" height="2" fill="#26a69a"/>
<rect x="327" y="771" width="5" height="2" fill="#26a69a"/>
<rect x="333" y="771" width="5" height="2" fill="#b2dfdb"/>
<rect x="340" y="772" width="5" height="1" fill="#b2dfdb"/>
<rect x="346" y="772" width="5" height="1" fill="#b2dfdb"/>
<rect x="352" y="772" width="5" height="1" fill="#26a69a"/>
<rect x="359" y="772" width="5" height="1" fill="#b2dfdb"/>
<rect x="365" y="773" width="5" height="1" fill="#ff5252"/>
<rect x="371" y="773" width="5" height="1" fill="#ffcdd2"/>
<rect x="378" y="773" width="5" height="1" fill="#ffcdd2"/>
<rect x="384" y="773" width="5" height="1" fill="#ff5252"/>
<rect x="390" y="773" width="5" height="2" fill="#ff5252"/>
<rect x="397" y="773" width="5" height="3" fill="#ff5252"/>
<rect x="403" y="773" width="5" height="4" fill="#ff5252"/>
<rect x="409" y="773" width="5" height="4" fill="#ffcdd2"/>
<rect x="416" y="773" width="5" height="4" fill="#ff5252"/>
<rect x="422" y="773" width="5" height="5" fill="#ff5252"/>
<rect x="428" y="773" width="5" height="5" fill="#ff5252"/>
<rect x="434" y="773" width="5" height="5" fill="#ffcdd2"/>
<rect x="441" y="773" width="5" height="4" fill="#ffcdd2"/>
<rect x="447" y="773" width="5" height="5" fill="#ff5252"/>
<rect x="453" y="773" width="5" height="5" fill="#ff5252"/>
<rect x="460" y="773" width="5" height="6" fill="#ff5252"/>
<rect x="466" y="773" width="5" height="6" fill="#ff5252"/>
<rect x="472" y="773" width="5" height="6" fill="#ffcdd2"/>
<rect x="479" y="773" width="5" height="5" fill="#ffcdd2"/>
<rect x="485" y="773" width="5" height="3" fill="#ffcdd2"/>
<rect x="491" y="773" width="5" height="3" fill="#ff5252"/>
<rect x="498" y="773" width="5" height="2" fill="#ffcdd2"/>
<rect x="504" y="773" width="5" height="1" fill="#ffcdd2"/>
<rect x="510" y="772" width="5" height="1" fill="#26a69a"/>
<rect x="517" y="771" width="5" height="2" fill="#26a69a"/>
<rect x="523" y="770" width="5" height="3" fill="#26a69a"/>
<rect x="529" y="769" width="5" height="4" fill="#26a69a"/>
<rect x="535" y="770" width="5" height="3" fill="#b2dfdb"/>
<rect x="542" y="770" width="5" height="3" fill="#b2dfdb"/>
<rect x="548" y="771" width="5" height="2" fill="#b2dfdb"/>
<rect x="554" y="771" width="5" height="2" fill="#26a69a"/>
<rect x="561" y="770" width="5" height="3" fill="#26a69a"/>
<rect x="567" y="770" width="5" height="3" fill="#b2dfdb"/>
<rect x="573" y="770" width="5" height="3" fill="#b2dfdb"/>
<rect x="580" y="770" width="5" height="3" fill="#26a69a"/>
<rect x="586" y="771" width="5" height="2" fill="#b2dfdb"/>
<rect x="592" y="771" width="5" height="2" fill="#b2dfdb"/>
<rect x="599" y="772" width="5" height="1" fill="#b2dfdb"/>
<rect x="605" y="773" width="5" height="1" fill="#ff5252"/>
<rect x="611" y="773" width="5" height="3" fill="#ff5252"/>
<rect x="618" y="773" width="5" height="4" fill="#ff5252"/>
<rect x="624" y="773" width="5" height="4" fill="#ff5252"/>
<rect x="630" y="773" width="5" height="5" fill="#ff5252"/>
<rect x="636" y="773" width="5" height="6" fill="#ff5252"/>
<rect x="643" y="773" width="5" height="5" fill="#ffcdd2"/>
<rect x="649" y="773" width="5" height="5" fill="#ffcdd2"/>
<rect x="655" y="773" width="5" height="4" fill="#ffcdd2"/>
<rect x="662" y="773" width="5" height="5" fill="#ff5252"/>
<rect x="668" y="773" width="5" height="4" fill="#ffcdd2"/>
<rect x="674" y="773" width="5" height="3" fill="#ffcdd2"/>
<rect x="681" y="773" width="5" height="2" fill="#ffcdd2"/>
<rect x="687" y="773" width="5" height="1" fill="#ffcdd2"/>
<rect x="693" y="771" width="5" height="2" fill="#26a69a"/>
<rect x="700" y="770" width="5" height="3" fill="#26a69a"/>
<rect x="706" y="770" width="5" height="3" fill="#26a69a"/>
<rect x="712" y="770" width="5" height="3" fill="#b2dfdb"/>
<rect x="718" y="769" width="5" height="4" fill="#26a69a"/>
<rect x="725" y="769" width="5" height="4" fill="#26a69a"/>
<rect x="731" y="770" width="5" height="3" fill="#b2dfdb"/>
<rect x="737" y="772" width="5" height="1" fill="#b2dfdb"/>
<rect x="744" y="773" width="5" height="1" fill="#ff5252"/>
<rect x="750" y="773" width="5" height="2" fill="#ff5252"/>
<rect x="756" y="773" width="5" height="2" fill="#ff5252"/>
<rect x="763" y="773" width="5" height="3" fill="#ff5252"/>
<rect x="769" y="773" width="5" height="4" fill="#ff5252"/>
<rect x="775" y="773" width="5" height="5" fill="#ff5252"/>
<rect x="782" y="773" width="5" height="4" fill="#ffcdd2"/>
<rect x="788" y="773" width="5" height="3" fill="#ffcdd2"/>
<rect x="794" y="773" width="5" height="1" fill="#ffcdd2"/>
<rect x="801" y="771" width="5" height="2" fill="#26a69a"/>
<rect x="807" y="769" width="5" height="4" fill="#26a69a"/>
<rect x="813" y="767" width="5" height="6" fill="#26a69a"/>
<rect x="819" y="766" width="5" height="7" fill="#26a69a"/>
<rect x="826" y="765" width="5" height="8" fill="#26a69a"/>
<rect x="832" y="766" width="5" height="7" fill="#b2dfdb"/>
<rect x="838" y="766" width="5" height="7" fill="#26a69a"/>
<rect x="845" y="766" width="5" height="7" fill="#26a69a"/>
<rect x="851" y="764" width="5" height="9" fill="#26a69a"/>
<rect x="857" y="764" width="5" height="9" fill="#26a69a"/>
<rect x="864" y="764" width="5" height="9" fill="#26a69a"/>
<rect x="870" y="765" width="5" height="8" fill="#b2dfdb"/>
<rect x="876" y="765" width="5" height="8" fill="#b2dfdb"/>
<rect x="883" y="766" width="5" height="7" fill="#b2dfdb"/>
<rect x="889" y="766" width="5" height="7" fill="#b2dfdb"/>
<rect x="895" y="767" width="5" height="6" fill="#b2dfdb"/>
<rect x="902" y="768" width="5" height="5" fill="#b2dfdb"/>
<rect x="908" y="769" width="5" height="4" fill="#b2dfdb"/>
<rect x="914" y="770" width="5" height="3" fill="#b2dfdb"/>
<rect x="920" y="771" width="5" height="2" fill="#b2dfdb"/>
<rect x="927" y="771" width="5" height="2" fill="#b2dfdb"/>
<rect x="933" y="772" width="5" height="1" fill="#b2dfdb"/>
<rect x="939" y="772" width="5" height="1" fill="#b2dfdb"/>
<rect x="946" y="773" width="5" height="1" fill="#ff5252"/>
<rect x="952" y="773" width="5" height="1" fill="#ff5252"/>
<rect x="958" y="772" width="5" height="1" fill="#26a69a"/>
<rect x="965" y="771" width="5" height="2" fill="#26a69a"/>
<rect x="971" y="771" width="5" height="2" fill="#26a69a"/>
<rect x="977" y="769" width="5" height="4" fill="#26a69a"/>
<rect x="984" y="769" width="5" height="4" fill="#26a69a"/>
<rect x="990" y="769" width="5" height="4" fill="#26a69a"/>
<rect x="996" y="769" width="5" height="4" fill="#26a69a"/>
<rect x="1003" y="768" width="5" height="5" fill="#26a69a"/>
<rect x="1009" y="770" width="5" height="3" fill="#b2dfdb"/>
<rect x="1015" y="771" width="5" height="2" fill="#b2dfdb"/>
<rect x="1021" y="771" width="5" height="2" fill="#b2dfdb"/>
<rect x="1028" y="771" width="5" height="2" fill="#b2dfdb"/>
<rect x="1034" y="771" width="5" height="2" fill="#b2dfdb"/>
<rect x="1040" y="772" width="5" height="1" fill="#b2dfdb"/>
<rect x="1047" y="773" width="5" height="1" fill="#ff5252"/>
<rect x="1053" y="773" width="5" height="1" fill="#ff5252"/>
<rect x="1059" y="773" width="5" height="3" fill="#ff5252"/>
<rect x="1066" y="773" width="5" height="4" fill="#ff5252"/>
<rect x="1072" y="773" width="5" height="5" fill="#ff5252"/>
<rect x="1078" y="773" width="5" height="4" fill="#ffcdd2"/>
<rect x="1085" y="773" width="5" height="4" fill="#ffcdd2"/>
<rect x="1091" y="773" width="5" height="3" fill="#ffcdd2"/>
<rect x="1097" y="773" width="5" height="2" fill="#ffcdd2"/>
<rect x="1103" y="773" width="5" height="2" fill="#ffcdd2"/>
<rect x="1110" y="773" width="5" height="2" fill="#ff5252"/>
<rect x="1116" y="773" width="5" height="3" fill="#ff5252"/>
<rect x="1122" y="773" width="5" height="3" fill="#ffcdd2"/>
<rect x="1129" y="773" width="5" height="1" fill="#ffcdd2"/>
<rect x="1135" y="773" width="5" height="1" fill="#ffcdd2"/>
<rect x="1141" y="772" width="5" height="1" fill="#26a69a"/>
<rect x="1148" y="772" width="5" height="1" fill="#26a69a"/>
<rect x="1154" y="771" width="5" height="2" fill="#26a69a"/>
<rect x="1160" y="771" width="5" height="2" fill="#b2dfdb"/>
<rect x="1167" y="771" width="5" height="2" fill="#26a69a"/>
<rect x="1173" y="771" width="5" height="2" fill="#b2dfdb"/>
<rect x="1179" y="773" width="5" height="1" fill="#ff5252"/>
<rect x="1186" y="772" width="5" height="1" fill="#26a69a"/>
<rect x="1192" y="772" width="5" height="1" fill="#26a69a"/>
<rect x="1198" y="772" width="5" height="1" fill="#b2dfdb"/>
<rect x="1204" y="772" width="5" height="1" fill="#b2dfdb"/>
<rect x="1211" y="771" width="5" height="2" fill="#26a69a"/>
<rect x="1217" y="771" width="5" height="2" fill="#26a69a"/>
<rect x="1223" y="771" width="5" height="2" fill="#26a69a"/>
<rect x="1230" y="771" width="5" height="2" fill="#b2dfdb"/>
<rect x="1236" y="772" width="5" height="1" fill="#b2dfdb"/>
<rect x="1242" y="773" width="5" height="1" fill="#ff5252"/>
<rect x="1249" y="772" width="5" height="1" fill="#26a69a"/>
<rect x="1255" y="773" width="5" height="1" fill="#ff5252"/>
<rect x="1261" y="773" width="5" height="1" fill="#ff5252"/>
<rect x="1268" y="773" width="5" height="1" fill="#ff5252"/>
<rect x="1274" y="773" width="5" height="1" fill="#ffcdd2"/>
</g>
<polyline points="10.00,765.70 14.10,765.91 20.41,766.47 26.72,766.93 33.03,767.24 39.35,767.49 45.66,767.74 51.97,767.93 58.28,768.18 64.59,768.25 70.90,768.00 77.21,767.68 83.53,767.27 89.84,767.08 96.15,767.09 102.46,767.18 108.77,767.05 115.08,766.84 121.40,766.72 127.71,766.46 134.02,765.88 140.33,765.19 146.64,764.42 152.95,763.76 159.26,763.10 165.58,762.25 171.89,761.16 178.20,759.88 184.51,758.55 190.82,757.08 197.13,755.69 203.44,754.58 209.76,753.85 216.07,753.36 222.38,753.26 228.69,753.51 235.00,753.82 241.31,754.16 247.63,754.48 253.94,754.60 260.25,754.58 266.56,754.56 272.87,754.75 279.18,755.14 285.49,755.63 291.81,756.08 298.12,756.34 304.43,756.36 310.74,756.29 317.05,756.13 323.36,755.81 329.68,755.39 335.99,755.10 342.30,754.97 348.61,754.86 354.92,754.74 361.23,754.71 367.54,754.89 373.86,755.06 380.17,755.18 386.48,755.42 392.79,756.04 399.10,756.95 405.41,758.15 411.72,759.30 418.04,760.50 424.35,761.80 430.66,763.16 436.97,764.50 443.28,765.69 449.59,766.97 455.90,768.41 462.22,770.06 468.53,771.76 474.84,773.27 481.15,774.61 487.46,775.43 493.77,776.30 500.09,777.00 506.40,777.41 512.71,777.31 519.02,776.79 525.33,776.08 531.64,775.26 537.95,774.50 544.27,773.95 550.58,773.62 556.89,773.18 563.20,772.58 569.51,772.01 575.82,771.45 582.13,770.77 588.45,770.32 594.76,770.02 601.07,769.89 607.38,770.11 613.69,770.87 620.00,771.98 626.32,773.13 632.63,774.56 638.94,776.05 645.25,777.41 651.56,778.66 657.87,779.78 664.18,781.03 670.50,782.15 676.81,783.10 683.12,783.63 689.43,783.72 695.74,783.40 702.05,782.68 708.37,781.92 714.68,781.27 720.99,780.47 727.30,779.61 733.61,778.99 739.92,778.77 746.23,779.04 752.55,779.55 758.86,780.08 765.17,780.85 771.48,781.94 777.79,783.26 784.10,784.40 790.41,785.27 796.73,785.63 803.04,785.28 809.35,784.25 815.66,782.83 821.97,781.13 828.28,779.34 834.60,777.71 840.91,775.97 847.22,774.23 853.53,772.18 859.84,770.04 866.15,767.89 872.46,765.89 878.78,763.93 885.09,762.17 891.40,760.58 897.71,759.18 904.02,758.05 910.33,757.16 916.64,756.50 922.96,756.02 929.27,755.56 935.58,755.33 941.89,755.27 948.20,755.46 954.51,755.68 960.82,755.61 967.14,755.33 973.45,754.84 979.76,754.04 986.07,753.06 992.38,752.08 998.69,751.09 1005.01,750.06 1011.32,749.42 1017.63,748.91 1023.94,748.54 1030.25,748.21 1036.56,747.93 1042.87,747.76 1049.19,747.84 1055.50,748.22 1061.81,749.01 1068.12,750.14 1074.43,751.46 1080.74,752.58 1087.05,753.61 1093.37,754.43 1099.68,755.15 1105.99,755.81 1112.30,756.50 1118.61,757.34 1124.92,758.08 1131.24,758.46 1137.55,758.59 1143.86,758.49 1150.17,758.27 1156.48,757.94 1162.79,757.64 1169.10,757.21 1175.42,756.84 1181.73,756.85 1188.04,756.73 1194.35,756.50 1200.66,756.32 1206.97,756.15 1213.28,755.84 1219.60,755.49 1225.91,755.05 1232.22,754.64 1238.53,754.61 1244.84,754.65 1251.15,754.61 1257.47,754.74 1263.78,755.11 1270.09,755.53 1276.40,755.79" fill="none" stroke="#ff6d00" stroke-width="1.3" stroke-linejoin="round"/>
<polyline points="10.00,768.50 14.10,769.18 20.41,768.70 26.72,768.80 33.03,768.49 39.35,768.46 45.66,768.78 51.97,768.68 58.28,769.18 64.59,768.53 70.90,767.02 77.21,766.38 83.53,765.65 89.84,766.32 96.15,767.11 102.46,767.53 108.77,766.56 115.08,766.01 121.40,766.21 127.71,765.42 134.02,763.56 140.33,762.41 146.64,761.36 152.95,761.12 159.26,760.44 165.58,758.86 171.89,756.83 178.20,754.77 184.51,753.21 190.82,751.21 197.13,750.12 203.44,750.15 209.76,750.92 216.07,751.38 222.38,752.85 228.69,754.52 235.00,755.05 241.31,755.52 247.63,755.78 253.94,755.08 260.25,754.48 266.56,754.48 272.87,755.51 279.18,756.71 285.49,757.61 291.81,757.87 298.12,757.36 304.43,756.44 310.74,756.01 317.05,755.50 323.36,754.54 329.68,753.69 335.99,753.96 342.30,754.42 348.61,754.46 354.92,754.24 361.23,754.60 367.54,755.63 373.86,755.70 380.17,755.70 386.48,756.35 392.79,758.52 399.10,760.57 405.41,762.95 411.72,763.90 418.04,765.31 424.35,767.02 430.66,768.58 436.97,769.88 443.28,770.41 449.59,772.10 455.90,774.15 462.22,776.68 468.53,778.56 474.84,779.29 481.15,780.01 487.46,778.71 493.77,779.78 500.09,779.81 506.40,779.05 512.71,776.89 519.02,774.71 525.33,773.24 531.64,772.01 537.95,771.45 544.27,771.76 550.58,772.30 556.89,771.43 563.20,770.14 569.51,769.73 575.82,769.21 582.13,768.05 588.45,768.54 594.76,768.83 601.07,769.37 607.38,770.96 613.69,773.94 620.00,776.40 626.32,777.76 632.63,780.26 638.94,782.03 645.25,782.84 651.56,783.67 657.87,784.27 664.18,786.03 670.50,786.59 676.81,786.94 683.12,785.72 689.43,784.09 695.74,782.12 702.05,779.82 708.37,778.85 714.68,778.70 720.99,777.24 727.30,776.17 733.61,776.51 739.92,777.90 746.23,780.11 752.55,781.60 758.86,782.18 765.17,783.93 771.48,786.30 777.79,788.54 784.10,788.99 790.41,788.72 796.73,787.08 803.04,783.86 809.35,780.16 815.66,777.15 821.97,774.31 828.28,772.17 834.60,771.20 840.91,769.03 847.22,767.26 853.53,763.97 859.84,761.46 866.15,759.29 872.46,757.91 878.78,756.08 885.09,755.15 891.40,754.20 897.71,753.60 904.02,753.51 910.33,753.58 916.64,753.88 922.96,754.09 929.27,753.72 935.58,754.42 941.89,755.05 948.20,756.18 954.51,756.58 960.82,755.34 967.14,754.17 973.45,752.91 979.76,750.82 986.07,749.17 992.38,748.13 998.69,747.11 1005.01,745.95 1011.32,746.85 1017.63,746.87 1023.94,747.07 1030.25,746.87 1036.56,746.82 1042.87,747.10 1049.19,748.13 1055.50,749.75 1061.81,752.16 1068.12,754.66 1074.43,756.74 1080.74,757.07 1087.05,757.73 1093.37,757.69 1099.68,758.05 1105.99,758.45 1112.30,759.25 1118.61,760.71 1124.92,761.02 1131.24,760.01 1137.55,759.11 1143.86,758.07 1150.17,757.39 1156.48,756.65 1162.79,756.41 1169.10,755.48 1175.42,755.38 1181.73,756.91 1188.04,756.24 1194.35,755.60 1200.66,755.60 1206.97,755.47 1213.28,754.57 1219.60,754.09 1225.91,753.30 1232.22,753.02 1238.53,754.49 1244.84,754.78 1251.15,754.46 1257.47,755.24 1263.78,756.62 1270.09,757.17 1276.40,756.84" fill="none" stroke="#2962ff" stroke-width="1.3" stroke-linejoin="round"/>
</g>
<text x="1335.5" y="319.7" font-family="Liberation Sans, sans-serif" font-size="14" fill="#131722" font-weight="bold" text-anchor="start"  textLength="32.3" lengthAdjust="spacingAndGlyphs">4633</text>
<text x="1335.5" y="341.9" font-family="Liberation Sans, sans-serif" font-size="14" fill="#131722" font-weight="bold" text-anchor="start"  textLength="32.3" lengthAdjust="spacingAndGlyphs">4550</text>
<text x="1335.5" y="355.9" font-family="Liberation Sans, sans-serif" font-size="14" fill="#131722" font-weight="bold" text-anchor="start"  textLength="79" lengthAdjust="spacingAndGlyphs">Sep '21 high</text>
<text x="1341.5" y="458.1" font-family="Liberation Sans, sans-serif" font-size="14" fill="#131722" font-weight="bold" text-anchor="start"  textLength="32.3" lengthAdjust="spacingAndGlyphs">4325</text>
<text x="1341.5" y="512.7" font-family="Liberation Sans, sans-serif" font-size="14" fill="#131722" font-weight="bold" text-anchor="start"  textLength="54.3" lengthAdjust="spacingAndGlyphs">4208.50</text>
<text x="148.2" y="568.7" font-family="Liberation Sans, sans-serif" font-size="14" fill="#131722" font-weight="bold" text-anchor="start"  textLength="32.8" lengthAdjust="spacingAndGlyphs">4110</text>
<text x="1342.3" y="608.8" font-family="Liberation Sans, sans-serif" font-size="19" fill="#131722" font-weight="normal" text-anchor="start"  textLength="46.5" lengthAdjust="spacingAndGlyphs">4000</text>
<text x="10.3" y="19.4" font-family="Liberation Sans, sans-serif" font-size="12" fill="#2a2e39" font-weight="normal" text-anchor="start"  textLength="375.5" lengthAdjust="spacingAndGlyphs">Richard_Snow published on TradingView.com, Feb 22, 2024 13:40 UTC</text>
<text x="18" y="45.9" font-family="Liberation Sans, sans-serif" font-size="12" fill="#2a2e39" font-weight="normal" text-anchor="start"  textLength="21" lengthAdjust="spacingAndGlyphs">SMA</text>
<text x="46.5" y="45.9" font-family="Liberation Sans, sans-serif" font-size="12" fill="#f23645" font-weight="normal" text-anchor="start"  textLength="42.3" lengthAdjust="spacingAndGlyphs">4525.48</text>
<text x="18" y="62.7" font-family="Liberation Sans, sans-serif" font-size="12" fill="#2a2e39" font-weight="normal" text-anchor="start"  textLength="21" lengthAdjust="spacingAndGlyphs">SMA</text>
<text x="46.5" y="62.7" font-family="Liberation Sans, sans-serif" font-size="12" fill="#2a2aff" font-weight="normal" text-anchor="start"  textLength="42.3" lengthAdjust="spacingAndGlyphs">4871.81</text>
<text x="18.6" y="661.4" font-family="Liberation Sans, sans-serif" font-size="12" fill="#2a2e39" font-weight="normal" text-anchor="start"  textLength="15" lengthAdjust="spacingAndGlyphs">RSI</text>
<text x="41.2" y="661.4" font-family="Liberation Sans, sans-serif" font-size="12" fill="#7e57c2" font-weight="normal" text-anchor="start"  textLength="29.3" lengthAdjust="spacingAndGlyphs">64.11</text>
<text x="78" y="661.4" font-family="Liberation Sans, sans-serif" font-size="12" fill="#ffeb3b" font-weight="normal" text-anchor="start"  textLength="29.8" lengthAdjust="spacingAndGlyphs">65.35</text>
<text x="115.9" y="661.4" font-family="Liberation Sans, sans-serif" font-size="11.5" fill="#2a2e39" font-weight="normal" text-anchor="start"  textLength="7.5" lengthAdjust="spacingAndGlyphs">Ø</text>
<text x="130.6" y="661.4" font-family="Liberation Sans, sans-serif" font-size="11.5" fill="#2a2e39" font-weight="normal" text-anchor="start"  textLength="7.5" lengthAdjust="spacingAndGlyphs">Ø</text>
<text x="146.6" y="661.4" font-family="Liberation Sans, sans-serif" font-size="11.5" fill="#2a2e39" font-weight="normal" text-anchor="start"  textLength="7.5" lengthAdjust="spacingAndGlyphs">Ø</text>
<text x="161.7" y="661.4" font-family="Liberation Sans, sans-serif" font-size="11.5" fill="#2a2e39" font-weight="normal" text-anchor="start"  textLength="7.5" lengthAdjust="spacingAndGlyphs">Ø</text>
<text x="176.4" y="661.4" font-family="Liberation Sans, sans-serif" font-size="11.5" fill="#2a2e39" font-weight="normal" text-anchor="start"  textLength="7.5" lengthAdjust="spacingAndGlyphs">Ø</text>
<text x="191.5" y="661.4" font-family="Liberation Sans, sans-serif" font-size="11.5" fill="#2a2e39" font-weight="normal" text-anchor="start"  textLength="7.5" lengthAdjust="spacingAndGlyphs">Ø</text>
<text x="18.1" y="759.4" font-family="Liberation Sans, sans-serif" font-size="12" fill="#2a2e39" font-weight="normal" text-anchor="start"  textLength="30.5" lengthAdjust="spacingAndGlyphs">MACD</text>
<text x="55.1" y="759.4" font-family="Liberation Sans, sans-serif" font-size="12" fill="#ffcdd2" font-weight="normal" text-anchor="start"  textLength="30" lengthAdjust="spacingAndGlyphs">−3.76</text>
<text x="92.4" y="759.4" font-family="Liberation Sans, sans-serif" font-size="12" fill="#2962ff" font-weight="normal" text-anchor="start"  textLength="29.3" lengthAdjust="spacingAndGlyphs">52.55</text>
<text x="129.2" y="759.4" font-family="Liberation Sans, sans-serif" font-size="12" fill="#ff6d00" font-weight="normal" text-anchor="start"  textLength="29.5" lengthAdjust="spacingAndGlyphs">56.30</text>
<text x="1480.3" y="155.79999999999998" font-family="Liberation Sans, sans-serif" font-size="12" fill="#50535e" font-weight="normal" text-anchor="start"  textLength="42" lengthAdjust="spacingAndGlyphs">5000.00</text>
<text x="1480.3" y="201.7" font-family="Liberation Sans, sans-serif" font-size="12" fill="#50535e" font-weight="normal" text-anchor="start"  textLength="42" lengthAdjust="spacingAndGlyphs">4900.00</text>
<text x="1480.3" y="248.89999999999998" font-family="Liberation Sans, sans-serif" font-size="12" fill="#50535e" font-weight="normal" text-anchor="start"  textLength="42" lengthAdjust="spacingAndGlyphs">4800.00</text>
<text x="1480.3" y="295.9" font-family="Liberation Sans, sans-serif" font-size="12" fill="#50535e" font-weight="normal" text-anchor="start"  textLength="42" lengthAdjust="spacingAndGlyphs">4700.00</text>
<text x="1480.3" y="342.7" font-family="Liberation Sans, sans-serif" font-size="12" fill="#50535e" font-weight="normal" text-anchor="start"  textLength="42" lengthAdjust="spacingAndGlyphs">4600.00</text>
<text x="1480.3" y="389.4" font-family="Liberation Sans, sans-serif" font-size="12" fill="#50535e" font-weight="normal" text-anchor="start"  textLength="42" lengthAdjust="spacingAndGlyphs">4500.00</text>
<text x="1480.3" y="435.9" font-family="Liberation Sans, sans-serif" font-size="12" fill="#50535e" font-weight="normal" text-anchor="start"  textLength="42" lengthAdjust="spacingAndGlyphs">4400.00</text>
<text x="1480.3" y="482.8" font-family="Liberation Sans, sans-serif" font-size="12" fill="#50535e" font-weight="normal" text-anchor="start"  textLength="42" lengthAdjust="spacingAndGlyphs">4300.00</text>
<text x="1480.3" y="62.4" font-family="Liberation Sans, sans-serif" font-size="12" fill="#50535e" font-weight="normal" text-anchor="start"  textLength="42" lengthAdjust="spacingAndGlyphs">5200.00</text>
<rect x="1473" y="28" width="62" height="33" fill="#fff"/>
<rect x="1476" y="31" width="56" height="26" rx="5" fill="#fff" stroke="#e0e3eb" stroke-width="1"/>
<text x="1485.5" y="48.8" font-family="Liberation Sans, sans-serif" font-size="12" fill="#131722" font-weight="normal" text-anchor="start"  textLength="21" lengthAdjust="spacingAndGlyphs">USD</text>
<rect x="1472" y="98" width="56" height="17" rx="2" fill="#000"/>
<rect x="1472" y="98" width="3" height="17" fill="#000"/>
<text x="1522" y="110.7" font-family="Liberation Sans, sans-serif" font-size="11.5" fill="#fff" font-weight="bold" text-anchor="end" >5066.50</text>
<rect x="1472" y="115" width="60" height="31" rx="2" fill="#26a69a"/>
<text x="1480.5" y="127.8" font-family="Liberation Sans, sans-serif" font-size="11.5" fill="#fff" font-weight="bold" text-anchor="start" >5059.50</text>
<text x="1480.5" y="142.5" font-family="Liberation Sans, sans-serif" font-size="11.5" fill="#cdeae6" font-weight="bold" text-anchor="start" >08:29:25</text>
<rect x="1416" y="115" width="55" height="17" rx="2" fill="#26a69a"/>
<text x="1443.5" y="127.8" font-family="Liberation Sans, sans-serif" font-size="11.5" fill="#fff" font-weight="bold" text-anchor="middle"  textLength="46" lengthAdjust="spacingAndGlyphs">ESH2024</text>
<rect x="1472" y="203" width="56" height="17" rx="2" fill="#2e2eff"/>
<rect x="1472" y="203" width="3" height="17" fill="#2e2eff"/>
<text x="1522" y="215.7" font-family="Liberation Sans, sans-serif" font-size="11.5" fill="#fff" font-weight="bold" text-anchor="end" >4871.81</text>
<rect x="1420" y="203" width="51" height="17" rx="2" fill="#2e2eff"/>
<text x="1445.5" y="215.6" font-family="Liberation Sans, sans-serif" font-size="11.5" fill="#fff" font-weight="bold" text-anchor="middle" >SMA:MA</text>
<rect x="1472" y="220" width="56" height="17" rx="2" fill="#000"/>
<rect x="1472" y="220" width="3" height="17" fill="#000"/>
<text x="1522" y="232.7" font-family="Liberation Sans, sans-serif" font-size="11.5" fill="#fff" font-weight="bold" text-anchor="end" >4841.50</text>
<rect x="1472" y="314" width="56" height="17" rx="2" fill="#000"/>
<rect x="1472" y="314" width="3" height="17" fill="#000"/>
<text x="1522" y="326.7" font-family="Liberation Sans, sans-serif" font-size="11.5" fill="#fff" font-weight="bold" text-anchor="end" >4634.50</text>
<rect x="1472" y="353" width="56" height="17" rx="2" fill="#000"/>
<rect x="1472" y="353" width="3" height="17" fill="#000"/>
<text x="1522" y="365.7" font-family="Liberation Sans, sans-serif" font-size="11.5" fill="#fff" font-weight="bold" text-anchor="end" >4550.00</text>
<rect x="1472" y="370" width="56" height="17" rx="2" fill="#f23645"/>
<rect x="1472" y="370" width="3" height="17" fill="#f23645"/>
<text x="1522" y="382.7" font-family="Liberation Sans, sans-serif" font-size="11.5" fill="#fff" font-weight="bold" text-anchor="end" >4525.48</text>
<rect x="1420" y="370" width="51" height="17" rx="2" fill="#f23645"/>
<text x="1445.5" y="382.6" font-family="Liberation Sans, sans-serif" font-size="11.5" fill="#fff" font-weight="bold" text-anchor="middle" >SMA:MA</text>
<rect x="1472" y="457" width="56" height="17" rx="2" fill="#000"/>
<rect x="1472" y="457" width="3" height="17" fill="#000"/>
<text x="1522" y="469.7" font-family="Liberation Sans, sans-serif" font-size="11.5" fill="#fff" font-weight="bold" text-anchor="end" >4327.50</text>
<rect x="1472" y="512" width="56" height="34" rx="2" fill="#131722"/>
<rect x="1472" y="512" width="3" height="34" fill="#131722"/>
<text x="1522" y="524.6" font-family="Liberation Sans, sans-serif" font-size="11.5" fill="#fff" font-weight="bold" text-anchor="end" >4209.00</text>
<text x="1522" y="541.4" font-family="Liberation Sans, sans-serif" font-size="11.5" fill="#fff" font-weight="bold" text-anchor="end" >4208.50</text>
<rect x="1472" y="558" width="56" height="34" rx="2" fill="#2a2e39"/>
<rect x="1472" y="558" width="3" height="34" fill="#2a2e39"/>
<text x="1522" y="569.5" font-family="Liberation Sans, sans-serif" font-size="11.5" fill="#fff" font-weight="bold" text-anchor="end" >4111.50</text>
<text x="1522" y="586.3" font-family="Liberation Sans, sans-serif" font-size="11.5" fill="#fff" font-weight="bold" text-anchor="end" >4110.00</text>
<rect x="1472" y="610" width="56" height="17" rx="2" fill="#131722"/>
<rect x="1472" y="610" width="3" height="17" fill="#131722"/>
<text x="1522" y="622.7" font-family="Liberation Sans, sans-serif" font-size="11.5" fill="#fff" font-weight="bold" text-anchor="end" >4000.00</text>
<defs><clipPath id="crsiax"><rect x="1300" y="643" width="240" height="97"/></clipPath></defs>
<g clip-path="url(#crsiax)">
<rect x="1382" y="643" width="133" height="12" fill="#fff"/>
<text x="1383.5" y="649.8" font-family="Liberation Sans, sans-serif" font-size="12" fill="#131722" font-weight="normal" text-anchor="start"  textLength="82.3" lengthAdjust="spacingAndGlyphs">Regular Bearish</text>
<text x="1480.9" y="650.8" font-family="Liberation Sans, sans-serif" font-size="12" fill="#131722" font-weight="normal" text-anchor="start"  textLength="28.3" lengthAdjust="spacingAndGlyphs">72.36</text>
<rect x="1391" y="655" width="80" height="17" rx="2" fill="#ffeb3b"/>
<text x="1395.1" y="667.8" font-family="Liberation Sans, sans-serif" font-size="12" fill="#131722" font-weight="normal" text-anchor="start"  textLength="70.7" lengthAdjust="spacingAndGlyphs">RSI-based MA</text>
<rect x="1472" y="655" width="43" height="17" rx="2" fill="#ffeb3b"/>
<text x="1480.9" y="667.8" font-family="Liberation Sans, sans-serif" font-size="12" fill="#131722" font-weight="normal" text-anchor="start"  textLength="28.3" lengthAdjust="spacingAndGlyphs">65.35</text>
<rect x="1445" y="672" width="26" height="17" rx="2" fill="#7e57c2"/>
<text x="1450.1" y="684.8" font-family="Liberation Sans, sans-serif" font-size="12" fill="#fff" font-weight="bold" text-anchor="start"  textLength="15.7" lengthAdjust="spacingAndGlyphs">RSI</text>
<rect x="1472" y="672" width="43" height="17" rx="2" fill="#7e57c2"/>
<text x="1480.9" y="684.8" font-family="Liberation Sans, sans-serif" font-size="12" fill="#fff" font-weight="bold" text-anchor="start"  textLength="28.3" lengthAdjust="spacingAndGlyphs">64.11</text>
<rect x="1382" y="689" width="133" height="17" rx="2" fill="#fff"/>
<text x="1387.6" y="700.7" font-family="Liberation Sans, sans-serif" font-size="12" fill="#131722" font-weight="normal" text-anchor="start"  textLength="78.2" lengthAdjust="spacingAndGlyphs">Regular Bullish</text>
<text x="1480.9" y="701.3" font-family="Liberation Sans, sans-serif" font-size="12" fill="#131722" font-weight="normal" text-anchor="start"  textLength="28.3" lengthAdjust="spacingAndGlyphs">57.17</text>
<text x="1480.4" y="739.9" font-family="Liberation Sans, sans-serif" font-size="12" fill="#50535e" font-weight="normal" text-anchor="start"  textLength="28.8" lengthAdjust="spacingAndGlyphs">25.00</text>
</g>
<defs><clipPath id="csig"><rect x="1420" y="741" width="110" height="7"/></clipPath></defs>
<g clip-path="url(#csig)">
<rect x="1430" y="735" width="41" height="13" rx="2" fill="#ff6d00"/>
<rect x="1472" y="735" width="43" height="13" rx="2" fill="#ff6d00"/>
<text x="1434.6" y="742.6" font-family="Liberation Sans, sans-serif" font-size="12" fill="#fff" font-weight="bold" text-anchor="start"  textLength="31" lengthAdjust="spacingAndGlyphs">Signal</text>
<text x="1480.5" y="742.6" font-family="Liberation Sans, sans-serif" font-size="12" fill="#fff" font-weight="bold" text-anchor="start"  textLength="28.5" lengthAdjust="spacingAndGlyphs">56.30</text>
</g>
<rect x="1431" y="748" width="40" height="16" rx="2" fill="#2962ff"/>
<text x="1435.5" y="760.7" font-family="Liberation Sans, sans-serif" font-size="12" fill="#fff" font-weight="bold" text-anchor="start"  textLength="30.7" lengthAdjust="spacingAndGlyphs">MACD</text>
<rect x="1472" y="748" width="42" height="16" rx="2" fill="#2962ff"/>
<text x="1480.2" y="760.7" font-family="Liberation Sans, sans-serif" font-size="12" fill="#fff" font-weight="bold" text-anchor="start"  textLength="29.3" lengthAdjust="spacingAndGlyphs">52.55</text>
<rect x="1407" y="765" width="64" height="16" rx="2" fill="#ffcdd2" fill-opacity="0.7"/>
<text x="1412.3" y="777.3" font-family="Liberation Sans, sans-serif" font-size="12" fill="#50535e" font-weight="normal" text-anchor="start"  textLength="53" lengthAdjust="spacingAndGlyphs">Histogram</text>
<rect x="1472" y="765" width="42" height="16" rx="2" fill="#ffcdd2" fill-opacity="0.7"/>
<text x="1480.9" y="777.3" font-family="Liberation Sans, sans-serif" font-size="11.5" fill="#50535e" font-weight="normal" text-anchor="start" >−3.76</text>
<rect x="1471" y="655" width="1" height="34" fill="#fff"/>
<rect x="1471" y="741" width="1" height="40" fill="#fff"/>
<text x="117.7" y="811.8" font-family="Liberation Sans, sans-serif" font-size="12" fill="#50535e" font-weight="normal" text-anchor="start"  textLength="18.9" lengthAdjust="spacingAndGlyphs">Jun</text>
<text x="251.39999999999998" y="811.8" font-family="Liberation Sans, sans-serif" font-size="12" fill="#50535e" font-weight="normal" text-anchor="start"  textLength="17.7" lengthAdjust="spacingAndGlyphs">Jul</text>
<text x="376.0" y="811.8" font-family="Liberation Sans, sans-serif" font-size="12" fill="#50535e" font-weight="normal" text-anchor="start"  textLength="20.2" lengthAdjust="spacingAndGlyphs">Aug</text>
<text x="521.5" y="811.8" font-family="Liberation Sans, sans-serif" font-size="12" fill="#50535e" font-weight="normal" text-anchor="start"  textLength="19.6" lengthAdjust="spacingAndGlyphs">Sep</text>
<text x="647.6" y="811.8" font-family="Liberation Sans, sans-serif" font-size="12" fill="#50535e" font-weight="normal" text-anchor="start"  textLength="19.3" lengthAdjust="spacingAndGlyphs">Oct</text>
<text x="786.1" y="811.8" font-family="Liberation Sans, sans-serif" font-size="12" fill="#50535e" font-weight="normal" text-anchor="start"  textLength="20.5" lengthAdjust="spacingAndGlyphs">Nov</text>
<text x="918.7" y="811.8" font-family="Liberation Sans, sans-serif" font-size="12" fill="#50535e" font-weight="normal" text-anchor="start"  textLength="20.5" lengthAdjust="spacingAndGlyphs">Dec</text>
<text x="1040.9" y="811.8" font-family="Liberation Sans, sans-serif" font-size="12" fill="#2a2e39" font-weight="bold" text-anchor="start"  textLength="28.9" lengthAdjust="spacingAndGlyphs">2024</text>
<text x="1177.7" y="811.8" font-family="Liberation Sans, sans-serif" font-size="12" fill="#50535e" font-weight="normal" text-anchor="start"  textLength="19.9" lengthAdjust="spacingAndGlyphs">Feb</text>
<text x="1308.2" y="811.8" font-family="Liberation Sans, sans-serif" font-size="12" fill="#50535e" font-weight="normal" text-anchor="start"  textLength="20.8" lengthAdjust="spacingAndGlyphs">Mar</text>
<text x="1430.2" y="811.8" font-family="Liberation Sans, sans-serif" font-size="12" fill="#50535e" font-weight="normal" text-anchor="start"  textLength="19.8" lengthAdjust="spacingAndGlyphs">Apr</text>
<g fill="#131722"><path d="M10 834H17.8V843.7H14V838H10Z"/><circle cx="21.1" cy="836.3" r="2.1"/><path d="M25.4 834H29.8L25.4 843.7H21Z"/></g>
<text x="32.9" y="843.7" font-family="Liberation Sans, sans-serif" font-size="12" fill="#131722" font-weight="normal" text-anchor="start"  textLength="71" lengthAdjust="spacingAndGlyphs">TradingView</text>
<defs><filter id="wsh" x="-20%" y="-20%" width="140%" height="140%"><feDropShadow dx="1.6" dy="1.6" stdDeviation="0.8" flood-color="#3a3a3a" flood-opacity="0.85"/></filter><filter id="zsh" x="-20%" y="-20%" width="140%" height="140%"><feDropShadow dx="1.2" dy="1.2" stdDeviation="0.5" flood-color="#555" flood-opacity="0.9"/></filter></defs>
<g filter="url(#wsh)" fill="none" stroke="#ffffff" stroke-linejoin="miter" stroke-linecap="square" opacity="0.95">
<polyline points="1318.50,765.00 1317.50,772.00" stroke-width="5"/>
<polyline points="1311.00,776.00 1322.00,776.00" stroke-width="7"/>
<polyline points="1320.00,771.00 1360.00,771.00" stroke-width="6"/>
<polyline points="1361.00,766.00 1360.00,771.00" stroke-width="5"/>
<polyline points="1357.00,771.00 1349.00,810.00 1345.00,815.00 1316.00,815.00" stroke-width="6"/>
<polyline points="1330.00,781.00 1348.00,781.00" stroke-width="5"/>
<polyline points="1328.00,781.00 1326.50,791.00" stroke-width="5"/>
<polyline points="1340.00,785.00 1343.00,791.00" stroke-width="4"/>
<polyline points="1325.00,797.50 1344.00,797.50" stroke-width="5"/>
<polyline points="1323.00,798.00 1321.00,809.00" stroke-width="5"/>
<polyline points="1336.00,801.00 1339.00,808.00" stroke-width="4"/>
<polyline points="1313.00,800.00 1306.00,815.00" stroke-width="5"/>
<polyline points="1299.00,815.50 1307.00,815.50" stroke-width="5"/>
<polyline points="1306.00,795.00 1315.00,795.00" stroke-width="5"/>
<polyline points="1313.00,780.00 1314.00,789.00" stroke-width="5"/>
<polyline points="1372.00,769.00 1410.00,769.00" stroke-width="6"/>
<polyline points="1375.00,772.00 1373.00,785.00" stroke-width="5"/>
<polyline points="1373.00,788.50 1417.00,788.50" stroke-width="5"/>
<polyline points="1418.00,786.00 1410.00,812.00 1404.50,816.50 1386.00,816.50" stroke-width="5"/>
<polyline points="1361.00,805.00 1401.00,805.00" stroke-width="6"/>
<polyline points="1420.00,771.00 1413.00,811.00" stroke-width="5"/>
<polyline points="1420.00,771.00 1434.00,771.00 1427.00,801.00 1421.00,814.00" stroke-width="5"/>
<polyline points="1440.00,772.00 1434.00,803.00 1441.00,815.00" stroke-width="5"/>
<polyline points="1446.00,777.00 1469.00,777.00" stroke-width="6"/>
<polyline points="1452.00,766.00 1443.00,812.00 1436.00,816.00" stroke-width="5"/>
<polyline points="1467.00,783.00 1453.00,815.00" stroke-width="5"/>
<polyline points="1512.00,771.00 1530.00,771.00 1542.00,766.00" stroke-width="5"/>
<polyline points="1542.00,768.00 1531.00,781.00 1522.00,786.00" stroke-width="5"/>
<polyline points="1521.00,782.00 1536.00,789.00" stroke-width="5"/>
<polyline points="1512.00,777.00 1495.00,796.00" stroke-width="5"/>
<polyline points="1493.00,770.00 1485.00,786.00 1491.00,786.00" stroke-width="5"/>
<polyline points="1498.00,799.00 1512.00,799.00" stroke-width="5"/>
<polyline points="1521.00,799.00 1535.00,799.00" stroke-width="5"/>
<polyline points="1522.00,799.00 1520.00,810.00" stroke-width="5"/>
<polyline points="1481.00,803.00 1498.00,803.00" stroke-width="5"/>
<polyline points="1498.00,804.00 1497.00,815.00" stroke-width="5"/>
<polyline points="1478.00,815.50 1530.00,815.50" stroke-width="6"/>
</g>
<g filter="url(#zsh)">
<text x="1309.5" y="852" font-family="Liberation Sans, sans-serif" font-size="32" font-weight="bold" font-style="italic" fill="#8eabf8" stroke="#8eabf8" stroke-width="1.2">z</text>
<text x="1336.5" y="852" font-family="Liberation Sans, sans-serif" font-size="32" font-weight="bold" font-style="italic" fill="#8eabf8" stroke="#8eabf8" stroke-width="1.2">z</text>
<text x="1364.5" y="852" font-family="Liberation Sans, sans-serif" font-size="32" font-weight="bold" font-style="italic" fill="#8eabf8" stroke="#8eabf8" stroke-width="1.2">r</text>
<text x="1389.5" y="852" font-family="Liberation Sans, sans-serif" font-size="32" font-weight="bold" font-style="italic" fill="#8eabf8" stroke="#8eabf8" stroke-width="1.2">t</text>
<text x="1409.1" y="852" font-family="Liberation Sans, sans-serif" font-size="32" font-weight="bold" font-style="italic" fill="#8eabf8" stroke="#8eabf8" stroke-width="1.2">0</text>
<text x="1443.3" y="852" font-family="Liberation Sans, sans-serif" font-size="32" font-weight="bold" font-style="italic" fill="#8eabf8" stroke="#8eabf8" stroke-width="1.2">1</text>
<text x="1467.2" y="852" font-family="Liberation Sans, sans-serif" font-size="32" font-weight="bold" font-style="italic" fill="#8eabf8" stroke="#8eabf8" stroke-width="1.2">.</text>
<text x="1487.0" y="852" font-family="Liberation Sans, sans-serif" font-size="32" font-weight="bold" font-style="italic" fill="#8eabf8" stroke="#8eabf8" stroke-width="1.2">c</text>
<text x="1511.7" y="852" font-family="Liberation Sans, sans-serif" font-size="32" font-weight="bold" font-style="italic" fill="#8eabf8" stroke="#8eabf8" stroke-width="1.2">n</text>
</g>
</svg>
</body></html>
